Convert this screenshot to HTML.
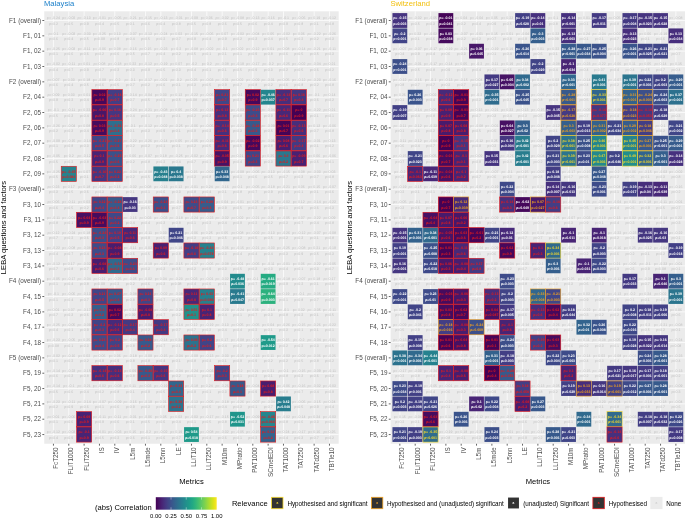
<!DOCTYPE html>
<html><head><meta charset="utf-8"><title>LEBA correlations</title><style>html,body{margin:0;padding:0;background:#fff}svg{display:block}</style></head><body>
<svg width="685" height="518" viewBox="0 0 685 518" font-family="'Liberation Sans', Arial, sans-serif">
<rect width="685" height="518" fill="#fff"/>
<g>
<text x="44.0" y="6.1" font-size="7.65" fill="#1a7fc9">Malaysia</text>
<rect x="44.25" y="11.30" width="294.43" height="432.45" fill="#ebebeb"/>
<path d="M44.25 20.50H338.68M44.25 35.84H338.68M44.25 51.17H338.68M44.25 66.50H338.68M44.25 81.84H338.68M44.25 97.18H338.68M44.25 112.51H338.68M44.25 127.84H338.68M44.25 143.18H338.68M44.25 158.52H338.68M44.25 173.85H338.68M44.25 189.19H338.68M44.25 204.52H338.68M44.25 219.86H338.68M44.25 235.19H338.68M44.25 250.53H338.68M44.25 265.86H338.68M44.25 281.19H338.68M44.25 296.53H338.68M44.25 311.87H338.68M44.25 327.20H338.68M44.25 342.54H338.68M44.25 357.87H338.68M44.25 373.21H338.68M44.25 388.54H338.68M44.25 403.88H338.68M44.25 419.21H338.68M44.25 434.55H338.68M53.45 11.30V443.75M68.78 11.30V443.75M84.12 11.30V443.75M99.46 11.30V443.75M114.79 11.30V443.75M130.12 11.30V443.75M145.46 11.30V443.75M160.80 11.30V443.75M176.13 11.30V443.75M191.47 11.30V443.75M206.80 11.30V443.75M222.13 11.30V443.75M237.47 11.30V443.75M252.81 11.30V443.75M268.14 11.30V443.75M283.48 11.30V443.75M298.81 11.30V443.75M314.14 11.30V443.75M329.48 11.30V443.75" stroke="#fcfcfc" stroke-width="0.85" fill="none"/>
<path d="M44.25 20.50h-1.9M44.25 35.84h-1.9M44.25 51.17h-1.9M44.25 66.50h-1.9M44.25 81.84h-1.9M44.25 97.18h-1.9M44.25 112.51h-1.9M44.25 127.84h-1.9M44.25 143.18h-1.9M44.25 158.52h-1.9M44.25 173.85h-1.9M44.25 189.19h-1.9M44.25 204.52h-1.9M44.25 219.86h-1.9M44.25 235.19h-1.9M44.25 250.53h-1.9M44.25 265.86h-1.9M44.25 281.19h-1.9M44.25 296.53h-1.9M44.25 311.87h-1.9M44.25 327.20h-1.9M44.25 342.54h-1.9M44.25 357.87h-1.9M44.25 373.21h-1.9M44.25 388.54h-1.9M44.25 403.88h-1.9M44.25 419.21h-1.9M44.25 434.55h-1.9M53.45 443.75v1.9M68.78 443.75v1.9M84.12 443.75v1.9M99.46 443.75v1.9M114.79 443.75v1.9M130.12 443.75v1.9M145.46 443.75v1.9M160.80 443.75v1.9M176.13 443.75v1.9M191.47 443.75v1.9M206.80 443.75v1.9M222.13 443.75v1.9M237.47 443.75v1.9M252.81 443.75v1.9M268.14 443.75v1.9M283.48 443.75v1.9M298.81 443.75v1.9M314.14 443.75v1.9M329.48 443.75v1.9" stroke="#333" stroke-width="0.75" fill="none"/>
<g font-size="6.35" fill="#4d4d4d" text-anchor="end">
<text x="41.05" y="22.75">F1 (overall)</text>
<text x="41.05" y="38.09">F1, 01</text>
<text x="41.05" y="53.42">F1, 02</text>
<text x="41.05" y="68.75">F1, 03</text>
<text x="41.05" y="84.09">F2 (overall)</text>
<text x="41.05" y="99.43">F2, 04</text>
<text x="41.05" y="114.76">F2, 05</text>
<text x="41.05" y="130.09">F2, 06</text>
<text x="41.05" y="145.43">F2, 07</text>
<text x="41.05" y="160.77">F2, 08</text>
<text x="41.05" y="176.10">F2, 09</text>
<text x="41.05" y="191.44">F3 (overall)</text>
<text x="41.05" y="206.77">F3, 10</text>
<text x="41.05" y="222.11">F3, 11</text>
<text x="41.05" y="237.44">F3, 12</text>
<text x="41.05" y="252.78">F3, 13</text>
<text x="41.05" y="268.11">F3, 14</text>
<text x="41.05" y="283.44">F4 (overall)</text>
<text x="41.05" y="298.78">F4, 15</text>
<text x="41.05" y="314.12">F4, 16</text>
<text x="41.05" y="329.45">F4, 17</text>
<text x="41.05" y="344.79">F4, 18</text>
<text x="41.05" y="360.12">F5 (overall)</text>
<text x="41.05" y="375.46">F5, 19</text>
<text x="41.05" y="390.79">F5, 20</text>
<text x="41.05" y="406.12">F5, 21</text>
<text x="41.05" y="421.46">F5, 22</text>
<text x="41.05" y="436.80">F5, 23</text>
</g>
<g font-size="6.35" fill="#4d4d4d" text-anchor="end">
<text transform="translate(58.05 447.35) rotate(-90)">FcT250</text>
<text transform="translate(73.38 447.35) rotate(-90)">FLiT1000</text>
<text transform="translate(88.72 447.35) rotate(-90)">FLiT250</text>
<text transform="translate(104.06 447.35) rotate(-90)">IS</text>
<text transform="translate(119.39 447.35) rotate(-90)">IV</text>
<text transform="translate(134.72 447.35) rotate(-90)">L5m</text>
<text transform="translate(150.06 447.35) rotate(-90)">L5mde</text>
<text transform="translate(165.40 447.35) rotate(-90)">L5mn</text>
<text transform="translate(180.73 447.35) rotate(-90)">LE</text>
<text transform="translate(196.07 447.35) rotate(-90)">LLiT10</text>
<text transform="translate(211.40 447.35) rotate(-90)">LLiT250</text>
<text transform="translate(226.73 447.35) rotate(-90)">M10m</text>
<text transform="translate(242.07 447.35) rotate(-90)">MPratio</text>
<text transform="translate(257.41 447.35) rotate(-90)">PAT1000</text>
<text transform="translate(272.74 447.35) rotate(-90)">SCmelEDI</text>
<text transform="translate(288.08 447.35) rotate(-90)">TAT1000</text>
<text transform="translate(303.41 447.35) rotate(-90)">TAT250</text>
<text transform="translate(318.75 447.35) rotate(-90)">TATd250</text>
<text transform="translate(334.08 447.35) rotate(-90)">TBTle10</text>
</g>
<text x="191.47" y="483.8" font-size="7.6" text-anchor="middle" fill="#000">Metrics</text>
<text transform="translate(5.75 227.52) rotate(-90)" font-size="7.6" text-anchor="middle" fill="#000">LEBA questions and factors</text>
<g font-size="3.55" text-anchor="middle" fill="#bfbfbf" text-rendering="geometricPrecision">
<text x="53.45" y="19.40">ρ= -0.24</text><text x="53.45" y="24.75">p=0.2</text><text x="68.78" y="19.40">ρ= -0.02</text><text x="68.78" y="24.75">p=0.5</text><text x="84.12" y="19.40">ρ= -0.13</text><text x="84.12" y="24.75">p=0.9</text><text x="99.46" y="19.40">ρ= -0.01</text><text x="99.46" y="24.75">p=0.4</text><text x="114.79" y="19.40">ρ= -0.05</text><text x="114.79" y="24.75">p=0.5</text><text x="130.12" y="19.40">ρ= -0.21</text><text x="130.12" y="24.75">p=0.1</text><text x="145.46" y="19.40">ρ= -0.15</text><text x="145.46" y="24.75">p=0.6</text><text x="160.80" y="19.40">ρ= -0.13</text><text x="160.80" y="24.75">p=0.4</text><text x="176.13" y="19.40">ρ= -0.01</text><text x="176.13" y="24.75">p=0.8</text><text x="191.47" y="19.40">ρ= -0.09</text><text x="191.47" y="24.75">p=0.5</text><text x="206.80" y="19.40">ρ= 0.06</text><text x="206.80" y="24.75">p=0.8</text><text x="222.13" y="19.40">ρ= -0.02</text><text x="222.13" y="24.75">p=0.6</text><text x="237.47" y="19.40">ρ= -0.08</text><text x="237.47" y="24.75">p=0.5</text><text x="252.81" y="19.40">ρ= -0.13</text><text x="252.81" y="24.75">p=0.6</text><text x="268.14" y="19.40">ρ= -0.16</text><text x="268.14" y="24.75">p=0.4</text><text x="283.48" y="19.40">ρ= -0.1</text><text x="283.48" y="24.75">p=0.9</text><text x="298.81" y="19.40">ρ= -0.06</text><text x="298.81" y="24.75">p=0.8</text><text x="314.14" y="19.40">ρ= 0.19</text><text x="314.14" y="24.75">p=0.1</text><text x="329.48" y="19.40">ρ= -0.12</text><text x="329.48" y="24.75">p=0.8</text><text x="53.45" y="34.73">ρ= 0.1</text><text x="53.45" y="40.09">p=0.6</text><text x="68.78" y="34.73">ρ= -0.03</text><text x="68.78" y="40.09">p=0.4</text><text x="84.12" y="34.73">ρ= -0.03</text><text x="84.12" y="40.09">p=0.5</text><text x="99.46" y="34.73">ρ= -0.25</text><text x="99.46" y="40.09">p=0.09</text><text x="114.79" y="34.73">ρ= 0.13</text><text x="114.79" y="40.09">p=0.8</text><text x="130.12" y="34.73">ρ= -0.07</text><text x="130.12" y="40.09">p=0.4</text><text x="145.46" y="34.73">ρ= -0.13</text><text x="145.46" y="40.09">p=0.5</text><text x="160.80" y="34.73">ρ= -0.24</text><text x="160.80" y="40.09">p=0.2</text><text x="176.13" y="34.73">ρ= 0.02</text><text x="176.13" y="40.09">p=0.7</text><text x="191.47" y="34.73">ρ= -0.15</text><text x="191.47" y="40.09">p=0.9</text><text x="206.80" y="34.73">ρ= -0.06</text><text x="206.80" y="40.09">p=0.4</text><text x="222.13" y="34.73">ρ= 0.07</text><text x="222.13" y="40.09">p=0.9</text><text x="237.47" y="34.73">ρ= -0.03</text><text x="237.47" y="40.09">p=0.2</text><text x="252.81" y="34.73">ρ= -0.04</text><text x="252.81" y="40.09">p=0.3</text><text x="268.14" y="34.73">ρ= 0.05</text><text x="268.14" y="40.09">p=0.4</text><text x="283.48" y="34.73">ρ= -0.02</text><text x="283.48" y="40.09">p=0.5</text><text x="298.81" y="34.73">ρ= 0.06</text><text x="298.81" y="40.09">p=0.2</text><text x="314.14" y="34.73">ρ= -0.22</text><text x="314.14" y="40.09">p=0.2</text><text x="329.48" y="34.73">ρ= -0.26</text><text x="329.48" y="40.09">p=0.3</text><text x="53.45" y="50.07">ρ= -0.25</text><text x="53.45" y="55.42">p=0.1</text><text x="68.78" y="50.07">ρ= -0.03</text><text x="68.78" y="55.42">p=0.6</text><text x="84.12" y="50.07">ρ= -0.11</text><text x="84.12" y="55.42">p=0.6</text><text x="99.46" y="50.07">ρ= -0.06</text><text x="99.46" y="55.42">p=0.2</text><text x="114.79" y="50.07">ρ= 0.08</text><text x="114.79" y="55.42">p=0.6</text><text x="130.12" y="50.07">ρ= -0.16</text><text x="130.12" y="55.42">p=0.5</text><text x="145.46" y="50.07">ρ= 0.15</text><text x="145.46" y="55.42">p=0.7</text><text x="160.80" y="50.07">ρ= -0.23</text><text x="160.80" y="55.42">p=0.4</text><text x="176.13" y="50.07">ρ= 0.2</text><text x="176.13" y="55.42">p=0.2</text><text x="191.47" y="50.07">ρ= -0.08</text><text x="191.47" y="55.42">p=0.5</text><text x="206.80" y="50.07">ρ= -0.02</text><text x="206.80" y="55.42">p=0.1</text><text x="222.13" y="50.07">ρ= -0.1</text><text x="222.13" y="55.42">p=0.1</text><text x="237.47" y="50.07">ρ= 0.02</text><text x="237.47" y="55.42">p=0.1</text><text x="252.81" y="50.07">ρ= -0.12</text><text x="252.81" y="55.42">p=0.9</text><text x="268.14" y="50.07">ρ= 0.01</text><text x="268.14" y="55.42">p=0.8</text><text x="283.48" y="50.07">ρ= 0.08</text><text x="283.48" y="55.42">p=0.6</text><text x="298.81" y="50.07">ρ= -0.14</text><text x="298.81" y="55.42">p=0.5</text><text x="314.14" y="50.07">ρ= -0.21</text><text x="314.14" y="55.42">p=0.5</text><text x="329.48" y="50.07">ρ= -0.11</text><text x="329.48" y="55.42">p=0.3</text><text x="53.45" y="65.41">ρ= -0.02</text><text x="53.45" y="70.75">p=0.4</text><text x="68.78" y="65.41">ρ= -0.11</text><text x="68.78" y="70.75">p=0.7</text><text x="84.12" y="65.41">ρ= 0.01</text><text x="84.12" y="70.75">p=0.9</text><text x="99.46" y="65.41">ρ= 0.08</text><text x="99.46" y="70.75">p=0.7</text><text x="114.79" y="65.41">ρ= -0.18</text><text x="114.79" y="70.75">p=0.3</text><text x="130.12" y="65.41">ρ= 0.22</text><text x="130.12" y="70.75">p=0.3</text><text x="145.46" y="65.41">ρ= -0.12</text><text x="145.46" y="70.75">p=0.9</text><text x="160.80" y="65.41">ρ= -0.19</text><text x="160.80" y="70.75">p=0.5</text><text x="176.13" y="65.41">ρ= 0.07</text><text x="176.13" y="70.75">p=0.3</text><text x="191.47" y="65.41">ρ= -0.2</text><text x="191.47" y="70.75">p=0.4</text><text x="206.80" y="65.41">ρ= 0.2</text><text x="206.80" y="70.75">p=0.1</text><text x="222.13" y="65.41">ρ= -0.08</text><text x="222.13" y="70.75">p=0.1</text><text x="237.47" y="65.41">ρ= -0.19</text><text x="237.47" y="70.75">p=0.5</text><text x="252.81" y="65.41">ρ= -0.17</text><text x="252.81" y="70.75">p=0.9</text><text x="268.14" y="65.41">ρ= -0.2</text><text x="268.14" y="70.75">p=0.3</text><text x="283.48" y="65.41">ρ= -0.25</text><text x="283.48" y="70.75">p=0.2</text><text x="298.81" y="65.41">ρ= -0.02</text><text x="298.81" y="70.75">p=0.5</text><text x="314.14" y="65.41">ρ= -0.04</text><text x="314.14" y="70.75">p=0.6</text><text x="329.48" y="65.41">ρ= 0.21</text><text x="329.48" y="70.75">p=0.2</text><text x="53.45" y="80.74">ρ= 0.07</text><text x="53.45" y="86.09">p=0.6</text><text x="68.78" y="80.74">ρ= 0.03</text><text x="68.78" y="86.09">p=0.4</text><text x="84.12" y="80.74">ρ= 0.18</text><text x="84.12" y="86.09">p=0.5</text><text x="99.46" y="80.74">ρ= -0.09</text><text x="99.46" y="86.09">p=0.6</text><text x="114.79" y="80.74">ρ= -0.2</text><text x="114.79" y="86.09">p=0.5</text><text x="130.12" y="80.74">ρ= -0.1</text><text x="130.12" y="86.09">p=0.7</text><text x="145.46" y="80.74">ρ= -0.17</text><text x="145.46" y="86.09">p=0.2</text><text x="160.80" y="80.74">ρ= -0.01</text><text x="160.80" y="86.09">p=0.6</text><text x="176.13" y="80.74">ρ= -0.2</text><text x="176.13" y="86.09">p=0.1</text><text x="191.47" y="80.74">ρ= 0.25</text><text x="191.47" y="86.09">p=0.3</text><text x="206.80" y="80.74">ρ= -0.03</text><text x="206.80" y="86.09">p=0.5</text><text x="222.13" y="80.74">ρ= -0.01</text><text x="222.13" y="86.09">p=0.9</text><text x="237.47" y="80.74">ρ= 0.02</text><text x="237.47" y="86.09">p=0.7</text><text x="252.81" y="80.74">ρ= -0.09</text><text x="252.81" y="86.09">p=0.8</text><text x="268.14" y="80.74">ρ= -0.01</text><text x="268.14" y="86.09">p=0.2</text><text x="283.48" y="80.74">ρ= 0.05</text><text x="283.48" y="86.09">p=0.6</text><text x="298.81" y="80.74">ρ= -0.12</text><text x="298.81" y="86.09">p=0.8</text><text x="314.14" y="80.74">ρ= -0.23</text><text x="314.14" y="86.09">p=0.2</text><text x="329.48" y="80.74">ρ= -0.16</text><text x="329.48" y="86.09">p=0.8</text><text x="53.45" y="96.08">ρ= 0.09</text><text x="53.45" y="101.43">p=0.9</text><text x="68.78" y="96.08">ρ= 0.03</text><text x="68.78" y="101.43">p=0.2</text><text x="84.12" y="96.08">ρ= 0.01</text><text x="84.12" y="101.43">p=0.4</text><text x="130.12" y="96.08">ρ= -0.14</text><text x="130.12" y="101.43">p=0.7</text><text x="145.46" y="96.08">ρ= -0.04</text><text x="145.46" y="101.43">p=0.5</text><text x="160.80" y="96.08">ρ= 0.03</text><text x="160.80" y="101.43">p=0.1</text><text x="176.13" y="96.08">ρ= 0.12</text><text x="176.13" y="101.43">p=0.5</text><text x="191.47" y="96.08">ρ= -0.22</text><text x="191.47" y="101.43">p=0.08</text><text x="206.80" y="96.08">ρ= -0.06</text><text x="206.80" y="101.43">p=0.7</text><text x="237.47" y="96.08">ρ= 0.1</text><text x="237.47" y="101.43">p=0.1</text><text x="314.14" y="96.08">ρ= -0.1</text><text x="314.14" y="101.43">p=0.6</text><text x="329.48" y="96.08">ρ= 0.14</text><text x="329.48" y="101.43">p=0.2</text><text x="53.45" y="111.41">ρ= -0.1</text><text x="53.45" y="116.76">p=0.5</text><text x="68.78" y="111.41">ρ= -0.11</text><text x="68.78" y="116.76">p=0.3</text><text x="84.12" y="111.41">ρ= 0.22</text><text x="84.12" y="116.76">p=0.4</text><text x="130.12" y="111.41">ρ= -0.24</text><text x="130.12" y="116.76">p=0.4</text><text x="145.46" y="111.41">ρ= -0.21</text><text x="145.46" y="116.76">p=0.1</text><text x="160.80" y="111.41">ρ= -0.08</text><text x="160.80" y="116.76">p=0.3</text><text x="176.13" y="111.41">ρ= 0.05</text><text x="176.13" y="116.76">p=0.1</text><text x="191.47" y="111.41">ρ= 0.06</text><text x="191.47" y="116.76">p=0.2</text><text x="206.80" y="111.41">ρ= -0.24</text><text x="206.80" y="116.76">p=0.3</text><text x="237.47" y="111.41">ρ= -0.03</text><text x="237.47" y="116.76">p=0.8</text><text x="268.14" y="111.41">ρ= -0.04</text><text x="268.14" y="116.76">p=0.9</text><text x="314.14" y="111.41">ρ= -0.22</text><text x="314.14" y="116.76">p=0.1</text><text x="329.48" y="111.41">ρ= 0.21</text><text x="329.48" y="116.76">p=0.1</text><text x="53.45" y="126.75">ρ= -0.26</text><text x="53.45" y="132.09">p=0.2</text><text x="68.78" y="126.75">ρ= -0.04</text><text x="68.78" y="132.09">p=0.3</text><text x="84.12" y="126.75">ρ= 0.08</text><text x="84.12" y="132.09">p=0.4</text><text x="130.12" y="126.75">ρ= -0.1</text><text x="130.12" y="132.09">p=0.1</text><text x="145.46" y="126.75">ρ= -0.12</text><text x="145.46" y="132.09">p=0.3</text><text x="160.80" y="126.75">ρ= -0.02</text><text x="160.80" y="132.09">p=0.9</text><text x="176.13" y="126.75">ρ= -0.25</text><text x="176.13" y="132.09">p=0.1</text><text x="191.47" y="126.75">ρ= -0.06</text><text x="191.47" y="132.09">p=0.9</text><text x="206.80" y="126.75">ρ= -0.06</text><text x="206.80" y="132.09">p=0.2</text><text x="237.47" y="126.75">ρ= -0.21</text><text x="237.47" y="132.09">p=0.3</text><text x="268.14" y="126.75">ρ= -0.09</text><text x="268.14" y="132.09">p=0.5</text><text x="314.14" y="126.75">ρ= 0.13</text><text x="314.14" y="132.09">p=0.7</text><text x="329.48" y="126.75">ρ= -0.06</text><text x="329.48" y="132.09">p=0.8</text><text x="53.45" y="142.08">ρ= -0.09</text><text x="53.45" y="147.43">p=0.1</text><text x="68.78" y="142.08">ρ= -0.15</text><text x="68.78" y="147.43">p=0.8</text><text x="84.12" y="142.08">ρ= -0.14</text><text x="84.12" y="147.43">p=0.3</text><text x="130.12" y="142.08">ρ= -0.22</text><text x="130.12" y="147.43">p=0.2</text><text x="145.46" y="142.08">ρ= -0.26</text><text x="145.46" y="147.43">p=0.2</text><text x="160.80" y="142.08">ρ= -0.14</text><text x="160.80" y="147.43">p=0.1</text><text x="176.13" y="142.08">ρ= 0.05</text><text x="176.13" y="147.43">p=0.1</text><text x="191.47" y="142.08">ρ= -0.05</text><text x="191.47" y="147.43">p=0.2</text><text x="206.80" y="142.08">ρ= -0.15</text><text x="206.80" y="147.43">p=0.5</text><text x="237.47" y="142.08">ρ= -0.06</text><text x="237.47" y="147.43">p=0.5</text><text x="268.14" y="142.08">ρ= -0.06</text><text x="268.14" y="147.43">p=0.8</text><text x="314.14" y="142.08">ρ= -0.01</text><text x="314.14" y="147.43">p=0.1</text><text x="329.48" y="142.08">ρ= 0.13</text><text x="329.48" y="147.43">p=0.2</text><text x="53.45" y="157.42">ρ= -0.05</text><text x="53.45" y="162.77">p=0.5</text><text x="68.78" y="157.42">ρ= 0.2</text><text x="68.78" y="162.77">p=0.2</text><text x="84.12" y="157.42">ρ= -0.12</text><text x="84.12" y="162.77">p=0.8</text><text x="130.12" y="157.42">ρ= 0.06</text><text x="130.12" y="162.77">p=0.2</text><text x="145.46" y="157.42">ρ= -0.07</text><text x="145.46" y="162.77">p=0.8</text><text x="160.80" y="157.42">ρ= 0.18</text><text x="160.80" y="162.77">p=0.2</text><text x="176.13" y="157.42">ρ= -0.25</text><text x="176.13" y="162.77">p=0.4</text><text x="191.47" y="157.42">ρ= -0.02</text><text x="191.47" y="162.77">p=0.7</text><text x="206.80" y="157.42">ρ= -0.09</text><text x="206.80" y="162.77">p=0.1</text><text x="237.47" y="157.42">ρ= 0.21</text><text x="237.47" y="162.77">p=0.4</text><text x="268.14" y="157.42">ρ= 0.25</text><text x="268.14" y="162.77">p=0.3</text><text x="314.14" y="157.42">ρ= 0.06</text><text x="314.14" y="162.77">p=0.5</text><text x="329.48" y="157.42">ρ= -0.06</text><text x="329.48" y="162.77">p=0.1</text><text x="53.45" y="172.75">ρ= -0.25</text><text x="53.45" y="178.10">p=0.5</text><text x="84.12" y="172.75">ρ= 0.07</text><text x="84.12" y="178.10">p=0.1</text><text x="130.12" y="172.75">ρ= -0.04</text><text x="130.12" y="178.10">p=0.2</text><text x="145.46" y="172.75">ρ= -0.08</text><text x="145.46" y="178.10">p=0.5</text><text x="191.47" y="172.75">ρ= 0.15</text><text x="191.47" y="178.10">p=0.3</text><text x="206.80" y="172.75">ρ= -0.02</text><text x="206.80" y="178.10">p=0.8</text><text x="237.47" y="172.75">ρ= -0.09</text><text x="237.47" y="178.10">p=0.1</text><text x="252.81" y="172.75">ρ= -0.06</text><text x="252.81" y="178.10">p=0.6</text><text x="268.14" y="172.75">ρ= -0.13</text><text x="268.14" y="178.10">p=0.5</text><text x="283.48" y="172.75">ρ= -0.15</text><text x="283.48" y="178.10">p=0.7</text><text x="298.81" y="172.75">ρ= 0.08</text><text x="298.81" y="178.10">p=0.3</text><text x="314.14" y="172.75">ρ= -0.03</text><text x="314.14" y="178.10">p=0.7</text><text x="329.48" y="172.75">ρ= 0.03</text><text x="329.48" y="178.10">p=0.8</text><text x="53.45" y="188.09">ρ= 0.23</text><text x="53.45" y="193.44">p=0.3</text><text x="68.78" y="188.09">ρ= 0.17</text><text x="68.78" y="193.44">p=0.5</text><text x="84.12" y="188.09">ρ= 0.18</text><text x="84.12" y="193.44">p=0.6</text><text x="99.46" y="188.09">ρ= -0.21</text><text x="99.46" y="193.44">p=0.3</text><text x="114.79" y="188.09">ρ= 0.16</text><text x="114.79" y="193.44">p=0.7</text><text x="130.12" y="188.09">ρ= -0.02</text><text x="130.12" y="193.44">p=0.1</text><text x="145.46" y="188.09">ρ= 0.08</text><text x="145.46" y="193.44">p=0.1</text><text x="160.80" y="188.09">ρ= -0.13</text><text x="160.80" y="193.44">p=0.6</text><text x="176.13" y="188.09">ρ= 0.12</text><text x="176.13" y="193.44">p=0.3</text><text x="191.47" y="188.09">ρ= -0.01</text><text x="191.47" y="193.44">p=0.8</text><text x="206.80" y="188.09">ρ= 0.24</text><text x="206.80" y="193.44">p=0.4</text><text x="222.13" y="188.09">ρ= -0.16</text><text x="222.13" y="193.44">p=0.1</text><text x="237.47" y="188.09">ρ= 0.1</text><text x="237.47" y="193.44">p=0.8</text><text x="252.81" y="188.09">ρ= -0.05</text><text x="252.81" y="193.44">p=0.7</text><text x="268.14" y="188.09">ρ= -0.18</text><text x="268.14" y="193.44">p=0.9</text><text x="283.48" y="188.09">ρ= -0.21</text><text x="283.48" y="193.44">p=0.09</text><text x="298.81" y="188.09">ρ= 0.06</text><text x="298.81" y="193.44">p=0.1</text><text x="314.14" y="188.09">ρ= 0.15</text><text x="314.14" y="193.44">p=0.1</text><text x="329.48" y="188.09">ρ= -0.07</text><text x="329.48" y="193.44">p=0.6</text><text x="53.45" y="203.42">ρ= 0.06</text><text x="53.45" y="208.77">p=0.6</text><text x="68.78" y="203.42">ρ= -0.11</text><text x="68.78" y="208.77">p=0.5</text><text x="84.12" y="203.42">ρ= 0.02</text><text x="84.12" y="208.77">p=0.2</text><text x="145.46" y="203.42">ρ= -0.06</text><text x="145.46" y="208.77">p=0.5</text><text x="176.13" y="203.42">ρ= -0.1</text><text x="176.13" y="208.77">p=0.7</text><text x="222.13" y="203.42">ρ= 0.04</text><text x="222.13" y="208.77">p=0.9</text><text x="237.47" y="203.42">ρ= -0.01</text><text x="237.47" y="208.77">p=0.5</text><text x="252.81" y="203.42">ρ= 0.25</text><text x="252.81" y="208.77">p=0.2</text><text x="268.14" y="203.42">ρ= -0.08</text><text x="268.14" y="208.77">p=0.9</text><text x="283.48" y="203.42">ρ= -0.02</text><text x="283.48" y="208.77">p=0.1</text><text x="298.81" y="203.42">ρ= 0.12</text><text x="298.81" y="208.77">p=0.9</text><text x="314.14" y="203.42">ρ= -0.14</text><text x="314.14" y="208.77">p=0.6</text><text x="329.48" y="203.42">ρ= -0.22</text><text x="329.48" y="208.77">p=0.3</text><text x="53.45" y="218.76">ρ= -0.11</text><text x="53.45" y="224.11">p=0.8</text><text x="68.78" y="218.76">ρ= -0.01</text><text x="68.78" y="224.11">p=0.1</text><text x="130.12" y="218.76">ρ= -0.16</text><text x="130.12" y="224.11">p=0.4</text><text x="145.46" y="218.76">ρ= 0.03</text><text x="145.46" y="224.11">p=0.4</text><text x="160.80" y="218.76">ρ= -0.03</text><text x="160.80" y="224.11">p=0.3</text><text x="176.13" y="218.76">ρ= -0.18</text><text x="176.13" y="224.11">p=0.8</text><text x="191.47" y="218.76">ρ= -0.24</text><text x="191.47" y="224.11">p=0.1</text><text x="206.80" y="218.76">ρ= -0.23</text><text x="206.80" y="224.11">p=0.2</text><text x="222.13" y="218.76">ρ= -0.02</text><text x="222.13" y="224.11">p=0.4</text><text x="237.47" y="218.76">ρ= 0.02</text><text x="237.47" y="224.11">p=0.9</text><text x="252.81" y="218.76">ρ= -0.21</text><text x="252.81" y="224.11">p=0.2</text><text x="268.14" y="218.76">ρ= -0.21</text><text x="268.14" y="224.11">p=0.2</text><text x="283.48" y="218.76">ρ= -0.05</text><text x="283.48" y="224.11">p=0.3</text><text x="298.81" y="218.76">ρ= 0.07</text><text x="298.81" y="224.11">p=0.7</text><text x="314.14" y="218.76">ρ= -0.22</text><text x="314.14" y="224.11">p=0.4</text><text x="329.48" y="218.76">ρ= 0.09</text><text x="329.48" y="224.11">p=0.8</text><text x="53.45" y="234.09">ρ= 0.12</text><text x="53.45" y="239.44">p=0.7</text><text x="68.78" y="234.09">ρ= -0.24</text><text x="68.78" y="239.44">p=0.2</text><text x="84.12" y="234.09">ρ= 0.18</text><text x="84.12" y="239.44">p=0.6</text><text x="145.46" y="234.09">ρ= -0.11</text><text x="145.46" y="239.44">p=0.9</text><text x="160.80" y="234.09">ρ= 0.03</text><text x="160.80" y="239.44">p=0.5</text><text x="191.47" y="234.09">ρ= -0.06</text><text x="191.47" y="239.44">p=0.3</text><text x="206.80" y="234.09">ρ= 0.25</text><text x="206.80" y="239.44">p=0.2</text><text x="222.13" y="234.09">ρ= 0.05</text><text x="222.13" y="239.44">p=0.5</text><text x="237.47" y="234.09">ρ= 0.08</text><text x="237.47" y="239.44">p=0.2</text><text x="252.81" y="234.09">ρ= -0.02</text><text x="252.81" y="239.44">p=0.5</text><text x="268.14" y="234.09">ρ= -0.13</text><text x="268.14" y="239.44">p=0.5</text><text x="283.48" y="234.09">ρ= -0.26</text><text x="283.48" y="239.44">p=0.2</text><text x="298.81" y="234.09">ρ= -0.12</text><text x="298.81" y="239.44">p=0.3</text><text x="314.14" y="234.09">ρ= -0.07</text><text x="314.14" y="239.44">p=0.1</text><text x="329.48" y="234.09">ρ= -0.08</text><text x="329.48" y="239.44">p=0.8</text><text x="53.45" y="249.43">ρ= -0.22</text><text x="53.45" y="254.78">p=0.4</text><text x="68.78" y="249.43">ρ= -0.08</text><text x="68.78" y="254.78">p=0.7</text><text x="84.12" y="249.43">ρ= -0.08</text><text x="84.12" y="254.78">p=0.4</text><text x="130.12" y="249.43">ρ= -0.11</text><text x="130.12" y="254.78">p=0.6</text><text x="145.46" y="249.43">ρ= -0.03</text><text x="145.46" y="254.78">p=0.5</text><text x="176.13" y="249.43">ρ= 0.19</text><text x="176.13" y="254.78">p=0.8</text><text x="222.13" y="249.43">ρ= -0.06</text><text x="222.13" y="254.78">p=0.3</text><text x="237.47" y="249.43">ρ= -0.15</text><text x="237.47" y="254.78">p=0.4</text><text x="252.81" y="249.43">ρ= -0.21</text><text x="252.81" y="254.78">p=0.4</text><text x="268.14" y="249.43">ρ= -0.03</text><text x="268.14" y="254.78">p=0.4</text><text x="283.48" y="249.43">ρ= -0.25</text><text x="283.48" y="254.78">p=0.3</text><text x="298.81" y="249.43">ρ= -0.08</text><text x="298.81" y="254.78">p=0.9</text><text x="314.14" y="249.43">ρ= 0.21</text><text x="314.14" y="254.78">p=0.5</text><text x="329.48" y="249.43">ρ= -0.19</text><text x="329.48" y="254.78">p=0.3</text><text x="53.45" y="264.76">ρ= -0.12</text><text x="53.45" y="270.11">p=0.7</text><text x="68.78" y="264.76">ρ= 0.17</text><text x="68.78" y="270.11">p=0.8</text><text x="84.12" y="264.76">ρ= -0.02</text><text x="84.12" y="270.11">p=0.7</text><text x="145.46" y="264.76">ρ= -0.19</text><text x="145.46" y="270.11">p=0.3</text><text x="160.80" y="264.76">ρ= -0.15</text><text x="160.80" y="270.11">p=0.3</text><text x="176.13" y="264.76">ρ= -0.15</text><text x="176.13" y="270.11">p=0.5</text><text x="191.47" y="264.76">ρ= -0.17</text><text x="191.47" y="270.11">p=0.2</text><text x="206.80" y="264.76">ρ= -0.06</text><text x="206.80" y="270.11">p=0.9</text><text x="222.13" y="264.76">ρ= -0.08</text><text x="222.13" y="270.11">p=0.3</text><text x="237.47" y="264.76">ρ= 0.01</text><text x="237.47" y="270.11">p=0.5</text><text x="252.81" y="264.76">ρ= -0.06</text><text x="252.81" y="270.11">p=0.3</text><text x="268.14" y="264.76">ρ= -0.11</text><text x="268.14" y="270.11">p=0.3</text><text x="283.48" y="264.76">ρ= -0.01</text><text x="283.48" y="270.11">p=0.4</text><text x="298.81" y="264.76">ρ= 0.06</text><text x="298.81" y="270.11">p=0.1</text><text x="314.14" y="264.76">ρ= -0.22</text><text x="314.14" y="270.11">p=0.3</text><text x="329.48" y="264.76">ρ= -0.05</text><text x="329.48" y="270.11">p=0.7</text><text x="53.45" y="280.09">ρ= -0.05</text><text x="53.45" y="285.44">p=0.1</text><text x="68.78" y="280.09">ρ= -0.17</text><text x="68.78" y="285.44">p=0.4</text><text x="84.12" y="280.09">ρ= -0.04</text><text x="84.12" y="285.44">p=0.8</text><text x="99.46" y="280.09">ρ= 0.21</text><text x="99.46" y="285.44">p=0.09</text><text x="114.79" y="280.09">ρ= -0.25</text><text x="114.79" y="285.44">p=0.2</text><text x="130.12" y="280.09">ρ= -0.05</text><text x="130.12" y="285.44">p=0.2</text><text x="145.46" y="280.09">ρ= -0.02</text><text x="145.46" y="285.44">p=0.6</text><text x="160.80" y="280.09">ρ= 0.04</text><text x="160.80" y="285.44">p=0.3</text><text x="176.13" y="280.09">ρ= -0.23</text><text x="176.13" y="285.44">p=0.08</text><text x="191.47" y="280.09">ρ= 0.03</text><text x="191.47" y="285.44">p=0.4</text><text x="206.80" y="280.09">ρ= -0.01</text><text x="206.80" y="285.44">p=0.6</text><text x="222.13" y="280.09">ρ= -0.02</text><text x="222.13" y="285.44">p=0.1</text><text x="252.81" y="280.09">ρ= -0.1</text><text x="252.81" y="285.44">p=0.7</text><text x="283.48" y="280.09">ρ= -0.18</text><text x="283.48" y="285.44">p=0.9</text><text x="298.81" y="280.09">ρ= -0.07</text><text x="298.81" y="285.44">p=0.2</text><text x="314.14" y="280.09">ρ= 0.18</text><text x="314.14" y="285.44">p=0.1</text><text x="329.48" y="280.09">ρ= 0.17</text><text x="329.48" y="285.44">p=0.8</text><text x="53.45" y="295.43">ρ= -0.1</text><text x="53.45" y="300.78">p=0.1</text><text x="68.78" y="295.43">ρ= -0.06</text><text x="68.78" y="300.78">p=0.4</text><text x="84.12" y="295.43">ρ= -0.13</text><text x="84.12" y="300.78">p=0.7</text><text x="130.12" y="295.43">ρ= -0.08</text><text x="130.12" y="300.78">p=0.8</text><text x="160.80" y="295.43">ρ= -0.02</text><text x="160.80" y="300.78">p=0.7</text><text x="176.13" y="295.43">ρ= -0.08</text><text x="176.13" y="300.78">p=0.9</text><text x="222.13" y="295.43">ρ= -0.07</text><text x="222.13" y="300.78">p=0.7</text><text x="252.81" y="295.43">ρ= -0.01</text><text x="252.81" y="300.78">p=0.4</text><text x="283.48" y="295.43">ρ= 0.19</text><text x="283.48" y="300.78">p=0.1</text><text x="298.81" y="295.43">ρ= -0.1</text><text x="298.81" y="300.78">p=0.8</text><text x="314.14" y="295.43">ρ= -0.05</text><text x="314.14" y="300.78">p=0.7</text><text x="329.48" y="295.43">ρ= 0.07</text><text x="329.48" y="300.78">p=0.3</text><text x="53.45" y="310.76">ρ= 0.01</text><text x="53.45" y="316.12">p=0.7</text><text x="68.78" y="310.76">ρ= 0.07</text><text x="68.78" y="316.12">p=0.3</text><text x="84.12" y="310.76">ρ= -0.17</text><text x="84.12" y="316.12">p=0.6</text><text x="130.12" y="310.76">ρ= 0.24</text><text x="130.12" y="316.12">p=0.09</text><text x="160.80" y="310.76">ρ= -0.02</text><text x="160.80" y="316.12">p=0.7</text><text x="176.13" y="310.76">ρ= -0.25</text><text x="176.13" y="316.12">p=0.2</text><text x="222.13" y="310.76">ρ= -0.23</text><text x="222.13" y="316.12">p=0.4</text><text x="237.47" y="310.76">ρ= -0.24</text><text x="237.47" y="316.12">p=0.1</text><text x="252.81" y="310.76">ρ= 0.06</text><text x="252.81" y="316.12">p=0.7</text><text x="268.14" y="310.76">ρ= -0.14</text><text x="268.14" y="316.12">p=0.3</text><text x="283.48" y="310.76">ρ= -0.1</text><text x="283.48" y="316.12">p=0.8</text><text x="298.81" y="310.76">ρ= 0.02</text><text x="298.81" y="316.12">p=0.2</text><text x="314.14" y="310.76">ρ= -0.05</text><text x="314.14" y="316.12">p=0.1</text><text x="329.48" y="310.76">ρ= -0.11</text><text x="329.48" y="316.12">p=0.5</text><text x="53.45" y="326.10">ρ= -0.25</text><text x="53.45" y="331.45">p=0.4</text><text x="68.78" y="326.10">ρ= -0.05</text><text x="68.78" y="331.45">p=0.1</text><text x="84.12" y="326.10">ρ= -0.09</text><text x="84.12" y="331.45">p=0.9</text><text x="145.46" y="326.10">ρ= -0.04</text><text x="145.46" y="331.45">p=0.2</text><text x="176.13" y="326.10">ρ= -0.14</text><text x="176.13" y="331.45">p=0.7</text><text x="191.47" y="326.10">ρ= 0.12</text><text x="191.47" y="331.45">p=0.7</text><text x="206.80" y="326.10">ρ= -0.19</text><text x="206.80" y="331.45">p=0.3</text><text x="222.13" y="326.10">ρ= -0.13</text><text x="222.13" y="331.45">p=0.4</text><text x="237.47" y="326.10">ρ= 0.05</text><text x="237.47" y="331.45">p=0.4</text><text x="252.81" y="326.10">ρ= -0.05</text><text x="252.81" y="331.45">p=0.2</text><text x="268.14" y="326.10">ρ= 0.04</text><text x="268.14" y="331.45">p=0.1</text><text x="283.48" y="326.10">ρ= -0.26</text><text x="283.48" y="331.45">p=0.3</text><text x="298.81" y="326.10">ρ= -0.15</text><text x="298.81" y="331.45">p=0.1</text><text x="314.14" y="326.10">ρ= -0.26</text><text x="314.14" y="331.45">p=0.1</text><text x="329.48" y="326.10">ρ= -0.22</text><text x="329.48" y="331.45">p=0.1</text><text x="53.45" y="341.44">ρ= -0.23</text><text x="53.45" y="346.79">p=0.08</text><text x="68.78" y="341.44">ρ= -0.05</text><text x="68.78" y="346.79">p=0.1</text><text x="84.12" y="341.44">ρ= 0.25</text><text x="84.12" y="346.79">p=0.3</text><text x="130.12" y="341.44">ρ= -0.08</text><text x="130.12" y="346.79">p=0.8</text><text x="160.80" y="341.44">ρ= -0.14</text><text x="160.80" y="346.79">p=0.7</text><text x="176.13" y="341.44">ρ= 0.24</text><text x="176.13" y="346.79">p=0.1</text><text x="222.13" y="341.44">ρ= 0.17</text><text x="222.13" y="346.79">p=0.4</text><text x="237.47" y="341.44">ρ= -0.08</text><text x="237.47" y="346.79">p=0.2</text><text x="252.81" y="341.44">ρ= -0.26</text><text x="252.81" y="346.79">p=0.08</text><text x="283.48" y="341.44">ρ= 0.15</text><text x="283.48" y="346.79">p=0.2</text><text x="298.81" y="341.44">ρ= -0.2</text><text x="298.81" y="346.79">p=0.2</text><text x="314.14" y="341.44">ρ= -0.04</text><text x="314.14" y="346.79">p=0.3</text><text x="329.48" y="341.44">ρ= -0.01</text><text x="329.48" y="346.79">p=0.5</text><text x="53.45" y="356.77">ρ= -0.02</text><text x="53.45" y="362.12">p=0.1</text><text x="68.78" y="356.77">ρ= -0.16</text><text x="68.78" y="362.12">p=0.2</text><text x="84.12" y="356.77">ρ= 0.02</text><text x="84.12" y="362.12">p=0.2</text><text x="99.46" y="356.77">ρ= 0.06</text><text x="99.46" y="362.12">p=0.9</text><text x="114.79" y="356.77">ρ= 0.06</text><text x="114.79" y="362.12">p=0.9</text><text x="130.12" y="356.77">ρ= -0.18</text><text x="130.12" y="362.12">p=0.8</text><text x="145.46" y="356.77">ρ= -0.09</text><text x="145.46" y="362.12">p=0.8</text><text x="160.80" y="356.77">ρ= -0.15</text><text x="160.80" y="362.12">p=0.4</text><text x="176.13" y="356.77">ρ= -0.04</text><text x="176.13" y="362.12">p=0.1</text><text x="191.47" y="356.77">ρ= -0.09</text><text x="191.47" y="362.12">p=0.8</text><text x="206.80" y="356.77">ρ= -0.13</text><text x="206.80" y="362.12">p=0.4</text><text x="222.13" y="356.77">ρ= -0.03</text><text x="222.13" y="362.12">p=0.1</text><text x="237.47" y="356.77">ρ= -0.15</text><text x="237.47" y="362.12">p=0.9</text><text x="252.81" y="356.77">ρ= -0.13</text><text x="252.81" y="362.12">p=0.9</text><text x="268.14" y="356.77">ρ= 0.11</text><text x="268.14" y="362.12">p=0.2</text><text x="283.48" y="356.77">ρ= -0.03</text><text x="283.48" y="362.12">p=0.2</text><text x="298.81" y="356.77">ρ= -0.02</text><text x="298.81" y="362.12">p=0.5</text><text x="314.14" y="356.77">ρ= -0.06</text><text x="314.14" y="362.12">p=0.8</text><text x="329.48" y="356.77">ρ= -0.25</text><text x="329.48" y="362.12">p=0.2</text><text x="53.45" y="372.11">ρ= -0.14</text><text x="53.45" y="377.46">p=0.6</text><text x="68.78" y="372.11">ρ= -0.23</text><text x="68.78" y="377.46">p=0.3</text><text x="84.12" y="372.11">ρ= -0.15</text><text x="84.12" y="377.46">p=0.8</text><text x="130.12" y="372.11">ρ= 0.09</text><text x="130.12" y="377.46">p=0.8</text><text x="176.13" y="372.11">ρ= -0.04</text><text x="176.13" y="377.46">p=0.2</text><text x="191.47" y="372.11">ρ= -0.24</text><text x="191.47" y="377.46">p=0.1</text><text x="206.80" y="372.11">ρ= -0.03</text><text x="206.80" y="377.46">p=0.3</text><text x="237.47" y="372.11">ρ= 0.2</text><text x="237.47" y="377.46">p=0.1</text><text x="252.81" y="372.11">ρ= 0.21</text><text x="252.81" y="377.46">p=0.3</text><text x="268.14" y="372.11">ρ= 0.21</text><text x="268.14" y="377.46">p=0.1</text><text x="283.48" y="372.11">ρ= 0.1</text><text x="283.48" y="377.46">p=0.8</text><text x="298.81" y="372.11">ρ= -0.15</text><text x="298.81" y="377.46">p=0.3</text><text x="314.14" y="372.11">ρ= -0.09</text><text x="314.14" y="377.46">p=0.6</text><text x="329.48" y="372.11">ρ= -0.11</text><text x="329.48" y="377.46">p=0.2</text><text x="53.45" y="387.44">ρ= -0.14</text><text x="53.45" y="392.79">p=0.5</text><text x="68.78" y="387.44">ρ= -0.1</text><text x="68.78" y="392.79">p=0.6</text><text x="84.12" y="387.44">ρ= -0.21</text><text x="84.12" y="392.79">p=0.4</text><text x="99.46" y="387.44">ρ= -0.02</text><text x="99.46" y="392.79">p=0.2</text><text x="114.79" y="387.44">ρ= -0.08</text><text x="114.79" y="392.79">p=0.8</text><text x="130.12" y="387.44">ρ= 0.11</text><text x="130.12" y="392.79">p=0.1</text><text x="145.46" y="387.44">ρ= 0.03</text><text x="145.46" y="392.79">p=0.9</text><text x="160.80" y="387.44">ρ= -0.19</text><text x="160.80" y="392.79">p=0.5</text><text x="191.47" y="387.44">ρ= -0.18</text><text x="191.47" y="392.79">p=0.9</text><text x="206.80" y="387.44">ρ= 0.24</text><text x="206.80" y="392.79">p=0.1</text><text x="222.13" y="387.44">ρ= -0.26</text><text x="222.13" y="392.79">p=0.3</text><text x="252.81" y="387.44">ρ= -0.04</text><text x="252.81" y="392.79">p=0.9</text><text x="283.48" y="387.44">ρ= -0.06</text><text x="283.48" y="392.79">p=0.8</text><text x="298.81" y="387.44">ρ= -0.16</text><text x="298.81" y="392.79">p=0.7</text><text x="314.14" y="387.44">ρ= -0.02</text><text x="314.14" y="392.79">p=0.4</text><text x="329.48" y="387.44">ρ= -0.03</text><text x="329.48" y="392.79">p=0.9</text><text x="53.45" y="402.77">ρ= -0.23</text><text x="53.45" y="408.12">p=0.2</text><text x="68.78" y="402.77">ρ= -0.11</text><text x="68.78" y="408.12">p=0.9</text><text x="84.12" y="402.77">ρ= -0.14</text><text x="84.12" y="408.12">p=0.6</text><text x="99.46" y="402.77">ρ= -0.07</text><text x="99.46" y="408.12">p=0.1</text><text x="114.79" y="402.77">ρ= -0.09</text><text x="114.79" y="408.12">p=0.6</text><text x="130.12" y="402.77">ρ= -0.16</text><text x="130.12" y="408.12">p=0.9</text><text x="145.46" y="402.77">ρ= -0.19</text><text x="145.46" y="408.12">p=0.3</text><text x="160.80" y="402.77">ρ= 0.01</text><text x="160.80" y="408.12">p=0.8</text><text x="191.47" y="402.77">ρ= -0.13</text><text x="191.47" y="408.12">p=0.6</text><text x="206.80" y="402.77">ρ= -0.05</text><text x="206.80" y="408.12">p=0.5</text><text x="222.13" y="402.77">ρ= -0.18</text><text x="222.13" y="408.12">p=0.4</text><text x="237.47" y="402.77">ρ= -0.26</text><text x="237.47" y="408.12">p=0.3</text><text x="252.81" y="402.77">ρ= -0.07</text><text x="252.81" y="408.12">p=0.1</text><text x="268.14" y="402.77">ρ= -0.04</text><text x="268.14" y="408.12">p=0.7</text><text x="298.81" y="402.77">ρ= -0.06</text><text x="298.81" y="408.12">p=0.5</text><text x="314.14" y="402.77">ρ= -0.15</text><text x="314.14" y="408.12">p=0.9</text><text x="329.48" y="402.77">ρ= 0.24</text><text x="329.48" y="408.12">p=0.4</text><text x="53.45" y="418.11">ρ= 0.01</text><text x="53.45" y="423.46">p=0.1</text><text x="68.78" y="418.11">ρ= -0.06</text><text x="68.78" y="423.46">p=0.6</text><text x="99.46" y="418.11">ρ= -0.11</text><text x="99.46" y="423.46">p=0.9</text><text x="114.79" y="418.11">ρ= -0.11</text><text x="114.79" y="423.46">p=0.6</text><text x="130.12" y="418.11">ρ= -0.01</text><text x="130.12" y="423.46">p=0.1</text><text x="145.46" y="418.11">ρ= -0.06</text><text x="145.46" y="423.46">p=0.5</text><text x="160.80" y="418.11">ρ= 0.05</text><text x="160.80" y="423.46">p=0.6</text><text x="176.13" y="418.11">ρ= 0.03</text><text x="176.13" y="423.46">p=0.4</text><text x="191.47" y="418.11">ρ= -0.03</text><text x="191.47" y="423.46">p=0.1</text><text x="206.80" y="418.11">ρ= -0.17</text><text x="206.80" y="423.46">p=0.5</text><text x="222.13" y="418.11">ρ= -0.15</text><text x="222.13" y="423.46">p=0.8</text><text x="252.81" y="418.11">ρ= -0.09</text><text x="252.81" y="423.46">p=0.3</text><text x="283.48" y="418.11">ρ= -0.02</text><text x="283.48" y="423.46">p=0.8</text><text x="298.81" y="418.11">ρ= -0.14</text><text x="298.81" y="423.46">p=0.6</text><text x="314.14" y="418.11">ρ= 0.24</text><text x="314.14" y="423.46">p=0.3</text><text x="329.48" y="418.11">ρ= -0.03</text><text x="329.48" y="423.46">p=0.1</text><text x="53.45" y="433.44">ρ= -0.12</text><text x="53.45" y="438.80">p=0.4</text><text x="68.78" y="433.44">ρ= -0.03</text><text x="68.78" y="438.80">p=0.9</text><text x="99.46" y="433.44">ρ= -0.01</text><text x="99.46" y="438.80">p=0.5</text><text x="114.79" y="433.44">ρ= -0.03</text><text x="114.79" y="438.80">p=0.2</text><text x="130.12" y="433.44">ρ= 0.15</text><text x="130.12" y="438.80">p=0.6</text><text x="145.46" y="433.44">ρ= -0.2</text><text x="145.46" y="438.80">p=0.1</text><text x="160.80" y="433.44">ρ= -0.02</text><text x="160.80" y="438.80">p=0.6</text><text x="176.13" y="433.44">ρ= 0.19</text><text x="176.13" y="438.80">p=0.7</text><text x="206.80" y="433.44">ρ= -0.08</text><text x="206.80" y="438.80">p=0.4</text><text x="222.13" y="433.44">ρ= -0.02</text><text x="222.13" y="438.80">p=0.6</text><text x="237.47" y="433.44">ρ= -0.05</text><text x="237.47" y="438.80">p=0.1</text><text x="252.81" y="433.44">ρ= -0.15</text><text x="252.81" y="438.80">p=0.2</text><text x="283.48" y="433.44">ρ= 0.24</text><text x="283.48" y="438.80">p=0.4</text><text x="298.81" y="433.44">ρ= -0.17</text><text x="298.81" y="438.80">p=0.3</text><text x="314.14" y="433.44">ρ= 0.16</text><text x="314.14" y="438.80">p=0.7</text><text x="329.48" y="433.44">ρ= 0.25</text><text x="329.48" y="438.80">p=0.2</text>
</g>
<rect x="91.89" y="89.61" width="15.14" height="15.14" fill="#46085c" stroke="#e41a1c" stroke-width="0.6"/><rect x="107.22" y="89.61" width="15.14" height="15.14" fill="#433e85" stroke="#e41a1c" stroke-width="0.6"/><rect x="214.57" y="89.61" width="15.14" height="15.14" fill="#404688" stroke="#e41a1c" stroke-width="0.6"/><rect x="245.24" y="89.61" width="15.14" height="15.14" fill="#46085c" stroke="#e41a1c" stroke-width="0.6"/><rect x="260.74" y="89.78" width="14.80" height="14.80" fill="#24868e"/><rect x="275.91" y="89.61" width="15.14" height="15.14" fill="#472e7c" stroke="#e41a1c" stroke-width="0.6"/><rect x="291.24" y="89.61" width="15.14" height="15.14" fill="#453781" stroke="#e41a1c" stroke-width="0.6"/><rect x="91.89" y="104.94" width="15.14" height="15.14" fill="#481769" stroke="#e41a1c" stroke-width="0.6"/><rect x="107.22" y="104.94" width="15.14" height="15.14" fill="#453781" stroke="#e41a1c" stroke-width="0.6"/><rect x="214.57" y="104.94" width="15.14" height="15.14" fill="#472e7c" stroke="#e41a1c" stroke-width="0.6"/><rect x="245.24" y="104.94" width="15.14" height="15.14" fill="#3e4c8a" stroke="#e41a1c" stroke-width="0.6"/><rect x="275.91" y="104.94" width="15.14" height="15.14" fill="#482878" stroke="#e41a1c" stroke-width="0.6"/><rect x="291.24" y="104.94" width="15.14" height="15.14" fill="#440154" stroke="#e41a1c" stroke-width="0.6"/><rect x="91.89" y="120.28" width="15.14" height="15.14" fill="#460b5e" stroke="#e41a1c" stroke-width="0.6"/><rect x="107.22" y="120.28" width="15.14" height="15.14" fill="#2e6f8e" stroke="#e41a1c" stroke-width="0.6"/><rect x="214.57" y="120.28" width="15.14" height="15.14" fill="#46307e" stroke="#e41a1c" stroke-width="0.6"/><rect x="245.24" y="120.28" width="15.14" height="15.14" fill="#375a8c" stroke="#e41a1c" stroke-width="0.6"/><rect x="275.91" y="120.28" width="15.14" height="15.14" fill="#450457" stroke="#e41a1c" stroke-width="0.6"/><rect x="291.24" y="120.28" width="15.14" height="15.14" fill="#472e7c" stroke="#e41a1c" stroke-width="0.6"/><rect x="91.89" y="135.61" width="15.14" height="15.14" fill="#404688" stroke="#e41a1c" stroke-width="0.6"/><rect x="107.22" y="135.61" width="15.14" height="15.14" fill="#38588c" stroke="#e41a1c" stroke-width="0.6"/><rect x="214.57" y="135.61" width="15.14" height="15.14" fill="#482878" stroke="#e41a1c" stroke-width="0.6"/><rect x="245.24" y="135.61" width="15.14" height="15.14" fill="#46085c" stroke="#e41a1c" stroke-width="0.6"/><rect x="275.91" y="135.61" width="15.14" height="15.14" fill="#481d6f" stroke="#e41a1c" stroke-width="0.6"/><rect x="291.24" y="135.61" width="15.14" height="15.14" fill="#443a83" stroke="#e41a1c" stroke-width="0.6"/><rect x="91.89" y="150.95" width="15.14" height="15.14" fill="#482475" stroke="#e41a1c" stroke-width="0.6"/><rect x="107.22" y="150.95" width="15.14" height="15.14" fill="#3b528b" stroke="#e41a1c" stroke-width="0.6"/><rect x="214.57" y="150.95" width="15.14" height="15.14" fill="#471365" stroke="#e41a1c" stroke-width="0.6"/><rect x="245.24" y="150.95" width="15.14" height="15.14" fill="#404688" stroke="#e41a1c" stroke-width="0.6"/><rect x="275.91" y="150.95" width="15.14" height="15.14" fill="#2a788e" stroke="#e41a1c" stroke-width="0.6"/><rect x="291.24" y="150.95" width="15.14" height="15.14" fill="#482173" stroke="#e41a1c" stroke-width="0.6"/><rect x="61.22" y="166.28" width="15.14" height="15.14" fill="#25848e" stroke="#e41a1c" stroke-width="0.6"/><rect x="91.89" y="166.28" width="15.14" height="15.14" fill="#453781" stroke="#e41a1c" stroke-width="0.6"/><rect x="107.22" y="166.28" width="15.14" height="15.14" fill="#3e4989" stroke="#e41a1c" stroke-width="0.6"/><rect x="153.40" y="166.45" width="14.80" height="14.80" fill="#27808e"/><rect x="168.73" y="166.45" width="14.80" height="14.80" fill="#2a788e"/><rect x="214.73" y="166.45" width="14.80" height="14.80" fill="#31678e"/><rect x="91.89" y="196.95" width="15.14" height="15.14" fill="#3e4989" stroke="#e41a1c" stroke-width="0.6"/><rect x="107.22" y="196.95" width="15.14" height="15.14" fill="#375a8c" stroke="#e41a1c" stroke-width="0.6"/><rect x="122.72" y="197.12" width="14.80" height="14.80" fill="#453781"/><rect x="153.23" y="196.95" width="15.14" height="15.14" fill="#3c4f8a" stroke="#e41a1c" stroke-width="0.6"/><rect x="183.90" y="196.95" width="15.14" height="15.14" fill="#3e4c8a" stroke="#e41a1c" stroke-width="0.6"/><rect x="199.23" y="196.95" width="15.14" height="15.14" fill="#365d8d" stroke="#e41a1c" stroke-width="0.6"/><rect x="76.55" y="212.29" width="15.14" height="15.14" fill="#471063" stroke="#e41a1c" stroke-width="0.6"/><rect x="91.89" y="212.29" width="15.14" height="15.14" fill="#460b5e" stroke="#e41a1c" stroke-width="0.6"/><rect x="107.22" y="212.29" width="15.14" height="15.14" fill="#3e4989" stroke="#e41a1c" stroke-width="0.6"/><rect x="91.89" y="227.62" width="15.14" height="15.14" fill="#3c4f8a" stroke="#e41a1c" stroke-width="0.6"/><rect x="107.22" y="227.62" width="15.14" height="15.14" fill="#424086" stroke="#e41a1c" stroke-width="0.6"/><rect x="122.56" y="227.62" width="15.14" height="15.14" fill="#482878" stroke="#e41a1c" stroke-width="0.6"/><rect x="168.73" y="227.79" width="14.80" height="14.80" fill="#404688"/><rect x="91.89" y="242.96" width="15.14" height="15.14" fill="#3e4c8a" stroke="#e41a1c" stroke-width="0.6"/><rect x="107.22" y="242.96" width="15.14" height="15.14" fill="#481d6f" stroke="#e41a1c" stroke-width="0.6"/><rect x="153.23" y="242.96" width="15.14" height="15.14" fill="#482173" stroke="#e41a1c" stroke-width="0.6"/><rect x="183.90" y="242.96" width="15.14" height="15.14" fill="#433e85" stroke="#e41a1c" stroke-width="0.6"/><rect x="199.23" y="242.96" width="15.14" height="15.14" fill="#26828e" stroke="#e41a1c" stroke-width="0.6"/><rect x="91.89" y="258.29" width="15.14" height="15.14" fill="#481d6f" stroke="#e41a1c" stroke-width="0.6"/><rect x="107.22" y="258.29" width="15.14" height="15.14" fill="#306a8e" stroke="#e41a1c" stroke-width="0.6"/><rect x="122.56" y="258.29" width="15.14" height="15.14" fill="#3e4c8a" stroke="#e41a1c" stroke-width="0.6"/><rect x="230.07" y="273.80" width="14.80" height="14.80" fill="#228b8d"/><rect x="260.74" y="273.80" width="14.80" height="14.80" fill="#25ab82"/><rect x="91.89" y="288.96" width="15.14" height="15.14" fill="#404688" stroke="#e41a1c" stroke-width="0.6"/><rect x="107.22" y="288.96" width="15.14" height="15.14" fill="#38588c" stroke="#e41a1c" stroke-width="0.6"/><rect x="137.89" y="288.96" width="15.14" height="15.14" fill="#404688" stroke="#e41a1c" stroke-width="0.6"/><rect x="183.90" y="288.96" width="15.14" height="15.14" fill="#482878" stroke="#e41a1c" stroke-width="0.6"/><rect x="199.23" y="288.96" width="15.14" height="15.14" fill="#27808e" stroke="#e41a1c" stroke-width="0.6"/><rect x="230.07" y="289.13" width="14.80" height="14.80" fill="#297a8e"/><rect x="260.74" y="289.13" width="14.80" height="14.80" fill="#2cb17e"/><rect x="91.89" y="304.30" width="15.14" height="15.14" fill="#355f8d" stroke="#e41a1c" stroke-width="0.6"/><rect x="107.22" y="304.30" width="15.14" height="15.14" fill="#46085c" stroke="#e41a1c" stroke-width="0.6"/><rect x="137.89" y="304.30" width="15.14" height="15.14" fill="#481d6f" stroke="#e41a1c" stroke-width="0.6"/><rect x="183.90" y="304.30" width="15.14" height="15.14" fill="#20928c" stroke="#e41a1c" stroke-width="0.6"/><rect x="199.23" y="304.30" width="15.14" height="15.14" fill="#482475" stroke="#e41a1c" stroke-width="0.6"/><rect x="91.89" y="319.63" width="15.14" height="15.14" fill="#414487" stroke="#e41a1c" stroke-width="0.6"/><rect x="107.22" y="319.63" width="15.14" height="15.14" fill="#472a7a" stroke="#e41a1c" stroke-width="0.6"/><rect x="122.56" y="319.63" width="15.14" height="15.14" fill="#443a83" stroke="#e41a1c" stroke-width="0.6"/><rect x="153.23" y="319.63" width="15.14" height="15.14" fill="#443a83" stroke="#e41a1c" stroke-width="0.6"/><rect x="91.89" y="334.97" width="15.14" height="15.14" fill="#3e4c8a" stroke="#e41a1c" stroke-width="0.6"/><rect x="107.22" y="334.97" width="15.14" height="15.14" fill="#414487" stroke="#e41a1c" stroke-width="0.6"/><rect x="137.89" y="334.97" width="15.14" height="15.14" fill="#375a8c" stroke="#e41a1c" stroke-width="0.6"/><rect x="183.90" y="334.97" width="15.14" height="15.14" fill="#2c738e" stroke="#e41a1c" stroke-width="0.6"/><rect x="199.23" y="334.97" width="15.14" height="15.14" fill="#414487" stroke="#e41a1c" stroke-width="0.6"/><rect x="260.74" y="335.14" width="14.80" height="14.80" fill="#1f9a8a"/><rect x="91.89" y="365.64" width="15.14" height="15.14" fill="#46307e" stroke="#e41a1c" stroke-width="0.6"/><rect x="107.22" y="365.64" width="15.14" height="15.14" fill="#472e7c" stroke="#e41a1c" stroke-width="0.6"/><rect x="137.89" y="365.64" width="15.14" height="15.14" fill="#375a8c" stroke="#e41a1c" stroke-width="0.6"/><rect x="153.23" y="365.64" width="15.14" height="15.14" fill="#463480" stroke="#e41a1c" stroke-width="0.6"/><rect x="214.57" y="365.64" width="15.14" height="15.14" fill="#414487" stroke="#e41a1c" stroke-width="0.6"/><rect x="168.56" y="380.97" width="15.14" height="15.14" fill="#31678e" stroke="#e41a1c" stroke-width="0.6"/><rect x="229.90" y="380.97" width="15.14" height="15.14" fill="#375a8c" stroke="#e41a1c" stroke-width="0.6"/><rect x="260.57" y="380.97" width="15.14" height="15.14" fill="#481d6f" stroke="#e41a1c" stroke-width="0.6"/><rect x="168.56" y="396.31" width="15.14" height="15.14" fill="#2c738e" stroke="#e41a1c" stroke-width="0.6"/><rect x="276.08" y="396.48" width="14.80" height="14.80" fill="#287d8e"/><rect x="76.55" y="411.64" width="15.14" height="15.14" fill="#482173" stroke="#e41a1c" stroke-width="0.6"/><rect x="230.07" y="411.81" width="14.80" height="14.80" fill="#1f958b"/><rect x="260.57" y="411.64" width="15.14" height="15.14" fill="#24868e" stroke="#e41a1c" stroke-width="0.6"/><rect x="76.55" y="426.98" width="15.14" height="15.14" fill="#482475" stroke="#e41a1c" stroke-width="0.6"/><rect x="184.07" y="427.15" width="14.80" height="14.80" fill="#1f9a8a"/><rect x="260.57" y="426.98" width="15.14" height="15.14" fill="#32648e" stroke="#e41a1c" stroke-width="0.6"/>
<g font-size="3.55" text-anchor="middle" font-weight="bold" text-rendering="geometricPrecision">
<g fill="#e41a1c"><text x="99.46" y="96.08">ρ= 0.02</text><text x="99.46" y="101.43">p=0.9</text></g><g fill="#e41a1c"><text x="114.79" y="96.08">ρ= -0.18</text><text x="114.79" y="101.43">p=0.7</text></g><g fill="#e41a1c"><text x="222.13" y="96.08">ρ= 0.21</text><text x="222.13" y="101.43">p=0.7</text></g><g fill="#e41a1c"><text x="252.81" y="96.08">ρ= 0.02</text><text x="252.81" y="101.43">p=0.9</text></g><g fill="#ffffff"><text x="268.14" y="96.08">ρ= -0.46</text><text x="268.14" y="101.43">p=0.037</text></g><g fill="#e41a1c"><text x="283.48" y="96.08">ρ= -0.13</text><text x="283.48" y="101.43">p=0.7</text></g><g fill="#e41a1c"><text x="298.81" y="96.08">ρ= 0.16</text><text x="298.81" y="101.43">p=0.4</text></g><g fill="#e41a1c"><text x="99.46" y="111.41">ρ= -0.06</text><text x="99.46" y="116.76">p=0.8</text></g><g fill="#e41a1c"><text x="114.79" y="111.41">ρ= 0.16</text><text x="114.79" y="116.76">p=0.5</text></g><g fill="#e41a1c"><text x="222.13" y="111.41">ρ= 0.13</text><text x="222.13" y="116.76">p=0.8</text></g><g fill="#e41a1c"><text x="252.81" y="111.41">ρ= -0.23</text><text x="252.81" y="116.76">p=0.3</text></g><g fill="#e41a1c"><text x="283.48" y="111.41">ρ= -0.11</text><text x="283.48" y="116.76">p=0.6</text></g><g fill="#e41a1c"><text x="298.81" y="111.41">ρ= 0</text><text x="298.81" y="116.76">p=0.9</text></g><g fill="#e41a1c"><text x="99.46" y="126.75">ρ= 0.03</text><text x="99.46" y="132.09">p=0.9</text></g><g fill="#e41a1c"><text x="114.79" y="126.75">ρ= -0.36</text><text x="114.79" y="132.09">p=0.4</text></g><g fill="#e41a1c"><text x="222.13" y="126.75">ρ= -0.14</text><text x="222.13" y="132.09">p=0.6</text></g><g fill="#e41a1c"><text x="252.81" y="126.75">ρ= -0.28</text><text x="252.81" y="132.09">p=0.3</text></g><g fill="#e41a1c"><text x="283.48" y="126.75">ρ= 0.01</text><text x="283.48" y="132.09">p=0.7</text></g><g fill="#e41a1c"><text x="298.81" y="126.75">ρ= -0.13</text><text x="298.81" y="132.09">p=0.6</text></g><g fill="#e41a1c"><text x="99.46" y="142.08">ρ= -0.21</text><text x="99.46" y="147.43">p=0.5</text></g><g fill="#e41a1c"><text x="114.79" y="142.08">ρ= -0.27</text><text x="114.79" y="147.43">p=0.6</text></g><g fill="#e41a1c"><text x="222.13" y="142.08">ρ= -0.11</text><text x="222.13" y="147.43">p=0.6</text></g><g fill="#e41a1c"><text x="252.81" y="142.08">ρ= -0.02</text><text x="252.81" y="147.43">p=0.9</text></g><g fill="#e41a1c"><text x="283.48" y="142.08">ρ= 0.08</text><text x="283.48" y="147.43">p=0.6</text></g><g fill="#e41a1c"><text x="298.81" y="142.08">ρ= -0.17</text><text x="298.81" y="147.43">p=0.4</text></g><g fill="#e41a1c"><text x="99.46" y="157.42">ρ= 0.1</text><text x="99.46" y="162.77">p=0.9</text></g><g fill="#e41a1c"><text x="114.79" y="157.42">ρ= -0.25</text><text x="114.79" y="162.77">p=0.6</text></g><g fill="#e41a1c"><text x="222.13" y="157.42">ρ= -0.05</text><text x="222.13" y="162.77">p=0.9</text></g><g fill="#e41a1c"><text x="252.81" y="157.42">ρ= 0.21</text><text x="252.81" y="162.77">p=0.3</text></g><g fill="#e41a1c"><text x="283.48" y="157.42">ρ= 0.4</text><text x="283.48" y="162.77">p=0.2</text></g><g fill="#e41a1c"><text x="298.81" y="157.42">ρ= -0.09</text><text x="298.81" y="162.77">p=0.7</text></g><g fill="#e41a1c"><text x="68.78" y="172.75">ρ= -0.45</text><text x="68.78" y="178.10">p=0.084</text></g><g fill="#e41a1c"><text x="99.46" y="172.75">ρ= -0.16</text><text x="99.46" y="178.10">p=0.7</text></g><g fill="#e41a1c"><text x="114.79" y="172.75">ρ= 0.22</text><text x="114.79" y="178.10">p=0.2</text></g><g fill="#ffffff"><text x="160.80" y="172.75">ρ= -0.43</text><text x="160.80" y="178.10">p=0.048</text></g><g fill="#ffffff"><text x="176.13" y="172.75">ρ= 0.4</text><text x="176.13" y="178.10">p=0.038</text></g><g fill="#ffffff"><text x="222.13" y="172.75">ρ= 0.33</text><text x="222.13" y="178.10">p=0.048</text></g><g fill="#e41a1c"><text x="99.46" y="203.42">ρ= 0.22</text><text x="99.46" y="208.77">p=0.4</text></g><g fill="#e41a1c"><text x="114.79" y="203.42">ρ= -0.28</text><text x="114.79" y="208.77">p=0.4</text></g><g fill="#ffffff"><text x="130.12" y="203.42">ρ= -0.16</text><text x="130.12" y="208.77">p=0.03</text></g><g fill="#e41a1c"><text x="160.80" y="203.42">ρ= -0.24</text><text x="160.80" y="208.77">p=0.3</text></g><g fill="#e41a1c"><text x="191.47" y="203.42">ρ= 0.23</text><text x="191.47" y="208.77">p=0.7</text></g><g fill="#e41a1c"><text x="206.80" y="203.42">ρ= 0.29</text><text x="206.80" y="208.77">p=0.3</text></g><g fill="#e41a1c"><text x="84.12" y="218.76">ρ= 0.04</text><text x="84.12" y="224.11">p=0.9</text></g><g fill="#e41a1c"><text x="99.46" y="218.76">ρ= -0.03</text><text x="99.46" y="224.11">p=0.9</text></g><g fill="#e41a1c"><text x="114.79" y="218.76">ρ= 0.22</text><text x="114.79" y="224.11">p=0.2</text></g><g fill="#e41a1c"><text x="99.46" y="234.09">ρ= -0.24</text><text x="99.46" y="239.44">p=0.3</text></g><g fill="#e41a1c"><text x="114.79" y="234.09">ρ= 0.19</text><text x="114.79" y="239.44">p=0.5</text></g><g fill="#e41a1c"><text x="130.12" y="234.09">ρ= 0.11</text><text x="130.12" y="239.44">p=0.6</text></g><g fill="#ffffff"><text x="176.13" y="234.09">ρ= 0.21</text><text x="176.13" y="239.44">p=0.046</text></g><g fill="#e41a1c"><text x="99.46" y="249.43">ρ= 0.23</text><text x="99.46" y="254.78">p=0.3</text></g><g fill="#e41a1c"><text x="114.79" y="249.43">ρ= -0.08</text><text x="114.79" y="254.78">p=0.9</text></g><g fill="#e41a1c"><text x="160.80" y="249.43">ρ= 0.09</text><text x="160.80" y="254.78">p=0.6</text></g><g fill="#e41a1c"><text x="191.47" y="249.43">ρ= -0.18</text><text x="191.47" y="254.78">p=0.6</text></g><g fill="#e41a1c"><text x="206.80" y="249.43">ρ= -0.44</text><text x="206.80" y="254.78">p=0.078</text></g><g fill="#e41a1c"><text x="99.46" y="264.76">ρ= -0.08</text><text x="99.46" y="270.11">p=0.6</text></g><g fill="#e41a1c"><text x="114.79" y="264.76">ρ= -0.34</text><text x="114.79" y="270.11">p=0.2</text></g><g fill="#e41a1c"><text x="130.12" y="264.76">ρ= -0.23</text><text x="130.12" y="270.11">p=0.6</text></g><g fill="#ffffff"><text x="237.47" y="280.09">ρ= -0.48</text><text x="237.47" y="285.44">p=0.036</text></g><g fill="#ffffff"><text x="268.14" y="280.09">ρ= -0.61</text><text x="268.14" y="285.44">p=0.019</text></g><g fill="#e41a1c"><text x="99.46" y="295.43">ρ= 0.21</text><text x="99.46" y="300.78">p=0.5</text></g><g fill="#e41a1c"><text x="114.79" y="295.43">ρ= 0.27</text><text x="114.79" y="300.78">p=0.4</text></g><g fill="#e41a1c"><text x="145.46" y="295.43">ρ= 0.21</text><text x="145.46" y="300.78">p=0.3</text></g><g fill="#e41a1c"><text x="191.47" y="295.43">ρ= 0.11</text><text x="191.47" y="300.78">p=0.8</text></g><g fill="#e41a1c"><text x="206.80" y="295.43">ρ= 0.43</text><text x="206.80" y="300.78">p=0.086</text></g><g fill="#ffffff"><text x="237.47" y="295.43">ρ= -0.41</text><text x="237.47" y="300.78">p=0.047</text></g><g fill="#ffffff"><text x="268.14" y="295.43">ρ= -0.64</text><text x="268.14" y="300.78">p=0.003</text></g><g fill="#e41a1c"><text x="99.46" y="310.76">ρ= 0.3</text><text x="99.46" y="316.12">p=0.2</text></g><g fill="#e41a1c"><text x="114.79" y="310.76">ρ= 0.02</text><text x="114.79" y="316.12">p=0.7</text></g><g fill="#e41a1c"><text x="145.46" y="310.76">ρ= -0.08</text><text x="145.46" y="316.12">p=0.8</text></g><g fill="#e41a1c"><text x="191.47" y="310.76">ρ= 0.51</text><text x="191.47" y="316.12">p=0.1</text></g><g fill="#e41a1c"><text x="206.80" y="310.76">ρ= 0.1</text><text x="206.80" y="316.12">p=0.8</text></g><g fill="#e41a1c"><text x="99.46" y="326.10">ρ= -0.2</text><text x="99.46" y="331.45">p=0.3</text></g><g fill="#e41a1c"><text x="114.79" y="326.10">ρ= -0.12</text><text x="114.79" y="331.45">p=0.6</text></g><g fill="#e41a1c"><text x="130.12" y="326.10">ρ= -0.17</text><text x="130.12" y="331.45">p=0.4</text></g><g fill="#e41a1c"><text x="160.80" y="326.10">ρ= -0.17</text><text x="160.80" y="331.45">p=0.4</text></g><g fill="#e41a1c"><text x="99.46" y="341.44">ρ= 0.23</text><text x="99.46" y="346.79">p=0.4</text></g><g fill="#e41a1c"><text x="114.79" y="341.44">ρ= 0.2</text><text x="114.79" y="346.79">p=0.5</text></g><g fill="#e41a1c"><text x="145.46" y="341.44">ρ= 0.28</text><text x="145.46" y="346.79">p=0.2</text></g><g fill="#e41a1c"><text x="191.47" y="341.44">ρ= 0.38</text><text x="191.47" y="346.79">p=0.2</text></g><g fill="#e41a1c"><text x="206.80" y="341.44">ρ= 0.2</text><text x="206.80" y="346.79">p=0.6</text></g><g fill="#ffffff"><text x="268.14" y="341.44">ρ= -0.54</text><text x="268.14" y="346.79">p=0.012</text></g><g fill="#e41a1c"><text x="99.46" y="372.11">ρ= -0.14</text><text x="99.46" y="377.46">p=0.6</text></g><g fill="#e41a1c"><text x="114.79" y="372.11">ρ= -0.13</text><text x="114.79" y="377.46">p=0.6</text></g><g fill="#e41a1c"><text x="145.46" y="372.11">ρ= -0.28</text><text x="145.46" y="377.46">p=0.3</text></g><g fill="#e41a1c"><text x="160.80" y="372.11">ρ= -0.15</text><text x="160.80" y="377.46">p=0.6</text></g><g fill="#e41a1c"><text x="222.13" y="372.11">ρ= -0.2</text><text x="222.13" y="377.46">p=0.3</text></g><g fill="#e41a1c"><text x="176.13" y="387.44">ρ= 0.33</text><text x="176.13" y="392.79">p=0.4</text></g><g fill="#e41a1c"><text x="237.47" y="387.44">ρ= 0.28</text><text x="237.47" y="392.79">p=0.1</text></g><g fill="#e41a1c"><text x="268.14" y="387.44">ρ= 0.08</text><text x="268.14" y="392.79">p=0.8</text></g><g fill="#e41a1c"><text x="176.13" y="402.77">ρ= 0.38</text><text x="176.13" y="408.12">p=0.2</text></g><g fill="#ffffff"><text x="283.48" y="402.77">ρ= 0.42</text><text x="283.48" y="408.12">p=0.048</text></g><g fill="#e41a1c"><text x="84.12" y="418.11">ρ= 0.09</text><text x="84.12" y="423.46">p=0.9</text></g><g fill="#ffffff"><text x="237.47" y="418.11">ρ= -0.52</text><text x="237.47" y="423.46">p=0.031</text></g><g fill="#e41a1c"><text x="268.14" y="418.11">ρ= -0.46</text><text x="268.14" y="423.46">p=0.066</text></g><g fill="#e41a1c"><text x="84.12" y="433.44">ρ= -0.1</text><text x="84.12" y="438.80">p=0.9</text></g><g fill="#ffffff"><text x="191.47" y="433.44">ρ= 0.54</text><text x="191.47" y="438.80">p=0.018</text></g><g fill="#e41a1c"><text x="268.14" y="433.44">ρ= 0.32</text><text x="268.14" y="438.80">p=0.2</text></g>
</g>
</g>
<g>
<text x="390.4" y="6.1" font-size="7.65" fill="#f2c010">Switzerland</text>
<rect x="390.65" y="11.30" width="294.35" height="432.45" fill="#ebebeb"/>
<path d="M390.65 20.50H685.00M390.65 35.84H685.00M390.65 51.17H685.00M390.65 66.50H685.00M390.65 81.84H685.00M390.65 97.18H685.00M390.65 112.51H685.00M390.65 127.84H685.00M390.65 143.18H685.00M390.65 158.52H685.00M390.65 173.85H685.00M390.65 189.19H685.00M390.65 204.52H685.00M390.65 219.86H685.00M390.65 235.19H685.00M390.65 250.53H685.00M390.65 265.86H685.00M390.65 281.19H685.00M390.65 296.53H685.00M390.65 311.87H685.00M390.65 327.20H685.00M390.65 342.54H685.00M390.65 357.87H685.00M390.65 373.21H685.00M390.65 388.54H685.00M390.65 403.88H685.00M390.65 419.21H685.00M390.65 434.55H685.00M399.85 11.30V443.75M415.19 11.30V443.75M430.52 11.30V443.75M445.86 11.30V443.75M461.19 11.30V443.75M476.53 11.30V443.75M491.86 11.30V443.75M507.20 11.30V443.75M522.53 11.30V443.75M537.87 11.30V443.75M553.20 11.30V443.75M568.54 11.30V443.75M583.87 11.30V443.75M599.21 11.30V443.75M614.54 11.30V443.75M629.88 11.30V443.75M645.21 11.30V443.75M660.55 11.30V443.75M675.88 11.30V443.75" stroke="#fcfcfc" stroke-width="0.85" fill="none"/>
<path d="M390.65 20.50h-1.9M390.65 35.84h-1.9M390.65 51.17h-1.9M390.65 66.50h-1.9M390.65 81.84h-1.9M390.65 97.18h-1.9M390.65 112.51h-1.9M390.65 127.84h-1.9M390.65 143.18h-1.9M390.65 158.52h-1.9M390.65 173.85h-1.9M390.65 189.19h-1.9M390.65 204.52h-1.9M390.65 219.86h-1.9M390.65 235.19h-1.9M390.65 250.53h-1.9M390.65 265.86h-1.9M390.65 281.19h-1.9M390.65 296.53h-1.9M390.65 311.87h-1.9M390.65 327.20h-1.9M390.65 342.54h-1.9M390.65 357.87h-1.9M390.65 373.21h-1.9M390.65 388.54h-1.9M390.65 403.88h-1.9M390.65 419.21h-1.9M390.65 434.55h-1.9M399.85 443.75v1.9M415.19 443.75v1.9M430.52 443.75v1.9M445.86 443.75v1.9M461.19 443.75v1.9M476.53 443.75v1.9M491.86 443.75v1.9M507.20 443.75v1.9M522.53 443.75v1.9M537.87 443.75v1.9M553.20 443.75v1.9M568.54 443.75v1.9M583.87 443.75v1.9M599.21 443.75v1.9M614.54 443.75v1.9M629.88 443.75v1.9M645.21 443.75v1.9M660.55 443.75v1.9M675.88 443.75v1.9" stroke="#333" stroke-width="0.75" fill="none"/>
<g font-size="6.35" fill="#4d4d4d" text-anchor="end">
<text x="387.45" y="22.75">F1 (overall)</text>
<text x="387.45" y="38.09">F1, 01</text>
<text x="387.45" y="53.42">F1, 02</text>
<text x="387.45" y="68.75">F1, 03</text>
<text x="387.45" y="84.09">F2 (overall)</text>
<text x="387.45" y="99.43">F2, 04</text>
<text x="387.45" y="114.76">F2, 05</text>
<text x="387.45" y="130.09">F2, 06</text>
<text x="387.45" y="145.43">F2, 07</text>
<text x="387.45" y="160.77">F2, 08</text>
<text x="387.45" y="176.10">F2, 09</text>
<text x="387.45" y="191.44">F3 (overall)</text>
<text x="387.45" y="206.77">F3, 10</text>
<text x="387.45" y="222.11">F3, 11</text>
<text x="387.45" y="237.44">F3, 12</text>
<text x="387.45" y="252.78">F3, 13</text>
<text x="387.45" y="268.11">F3, 14</text>
<text x="387.45" y="283.44">F4 (overall)</text>
<text x="387.45" y="298.78">F4, 15</text>
<text x="387.45" y="314.12">F4, 16</text>
<text x="387.45" y="329.45">F4, 17</text>
<text x="387.45" y="344.79">F4, 18</text>
<text x="387.45" y="360.12">F5 (overall)</text>
<text x="387.45" y="375.46">F5, 19</text>
<text x="387.45" y="390.79">F5, 20</text>
<text x="387.45" y="406.12">F5, 21</text>
<text x="387.45" y="421.46">F5, 22</text>
<text x="387.45" y="436.80">F5, 23</text>
</g>
<g font-size="6.35" fill="#4d4d4d" text-anchor="end">
<text transform="translate(404.45 447.35) rotate(-90)">FcT250</text>
<text transform="translate(419.79 447.35) rotate(-90)">FLiT1000</text>
<text transform="translate(435.12 447.35) rotate(-90)">FLiT250</text>
<text transform="translate(450.46 447.35) rotate(-90)">IS</text>
<text transform="translate(465.79 447.35) rotate(-90)">IV</text>
<text transform="translate(481.13 447.35) rotate(-90)">L5m</text>
<text transform="translate(496.46 447.35) rotate(-90)">L5mde</text>
<text transform="translate(511.80 447.35) rotate(-90)">L5mn</text>
<text transform="translate(527.13 447.35) rotate(-90)">LE</text>
<text transform="translate(542.47 447.35) rotate(-90)">LLiT10</text>
<text transform="translate(557.80 447.35) rotate(-90)">LLiT250</text>
<text transform="translate(573.14 447.35) rotate(-90)">M10m</text>
<text transform="translate(588.47 447.35) rotate(-90)">MPratio</text>
<text transform="translate(603.81 447.35) rotate(-90)">PAT1000</text>
<text transform="translate(619.14 447.35) rotate(-90)">SCmelEDI</text>
<text transform="translate(634.48 447.35) rotate(-90)">TAT1000</text>
<text transform="translate(649.81 447.35) rotate(-90)">TAT250</text>
<text transform="translate(665.15 447.35) rotate(-90)">TATd250</text>
<text transform="translate(680.48 447.35) rotate(-90)">TBTle10</text>
</g>
<text x="537.87" y="483.8" font-size="7.6" text-anchor="middle" fill="#000">Metrics</text>
<text transform="translate(352.15 227.52) rotate(-90)" font-size="7.6" text-anchor="middle" fill="#000">LEBA questions and factors</text>
<g font-size="3.55" text-anchor="middle" fill="#bfbfbf" text-rendering="geometricPrecision">
<text x="415.19" y="19.40">ρ= -0.02</text><text x="415.19" y="24.75">p=0.5</text><text x="430.52" y="19.40">ρ= -0.05</text><text x="430.52" y="24.75">p=0.3</text><text x="461.19" y="19.40">ρ= 0.04</text><text x="461.19" y="24.75">p=0.2</text><text x="476.53" y="19.40">ρ= -0.04</text><text x="476.53" y="24.75">p=0.4</text><text x="491.86" y="19.40">ρ= 0.05</text><text x="491.86" y="24.75">p=0.9</text><text x="507.20" y="19.40">ρ= 0.23</text><text x="507.20" y="24.75">p=0.5</text><text x="553.20" y="19.40">ρ= 0.1</text><text x="553.20" y="24.75">p=0.8</text><text x="583.87" y="19.40">ρ= 0.01</text><text x="583.87" y="24.75">p=0.1</text><text x="614.54" y="19.40">ρ= 0.05</text><text x="614.54" y="24.75">p=0.8</text><text x="675.88" y="19.40">ρ= -0.08</text><text x="675.88" y="24.75">p=0.6</text><text x="415.19" y="34.73">ρ= 0.23</text><text x="415.19" y="40.09">p=0.1</text><text x="430.52" y="34.73">ρ= -0.02</text><text x="430.52" y="40.09">p=0.6</text><text x="461.19" y="34.73">ρ= -0.07</text><text x="461.19" y="40.09">p=0.2</text><text x="476.53" y="34.73">ρ= -0.01</text><text x="476.53" y="40.09">p=0.2</text><text x="491.86" y="34.73">ρ= 0.15</text><text x="491.86" y="40.09">p=0.7</text><text x="507.20" y="34.73">ρ= 0.01</text><text x="507.20" y="40.09">p=0.8</text><text x="522.53" y="34.73">ρ= -0.04</text><text x="522.53" y="40.09">p=0.9</text><text x="553.20" y="34.73">ρ= 0.23</text><text x="553.20" y="40.09">p=0.09</text><text x="583.87" y="34.73">ρ= 0.24</text><text x="583.87" y="40.09">p=0.1</text><text x="599.21" y="34.73">ρ= -0.04</text><text x="599.21" y="40.09">p=0.1</text><text x="614.54" y="34.73">ρ= 0.02</text><text x="614.54" y="40.09">p=0.7</text><text x="645.21" y="34.73">ρ= 0.06</text><text x="645.21" y="40.09">p=0.1</text><text x="660.55" y="34.73">ρ= -0.19</text><text x="660.55" y="40.09">p=0.6</text><text x="399.85" y="50.07">ρ= -0.07</text><text x="399.85" y="55.42">p=0.4</text><text x="415.19" y="50.07">ρ= -0.07</text><text x="415.19" y="55.42">p=0.9</text><text x="430.52" y="50.07">ρ= -0.17</text><text x="430.52" y="55.42">p=0.4</text><text x="445.86" y="50.07">ρ= -0.19</text><text x="445.86" y="55.42">p=0.6</text><text x="461.19" y="50.07">ρ= -0.21</text><text x="461.19" y="55.42">p=0.3</text><text x="491.86" y="50.07">ρ= -0.19</text><text x="491.86" y="55.42">p=0.1</text><text x="507.20" y="50.07">ρ= 0.19</text><text x="507.20" y="55.42">p=0.4</text><text x="537.87" y="50.07">ρ= 0.01</text><text x="537.87" y="55.42">p=0.6</text><text x="553.20" y="50.07">ρ= 0.22</text><text x="553.20" y="55.42">p=0.1</text><text x="614.54" y="50.07">ρ= -0.04</text><text x="614.54" y="55.42">p=0.1</text><text x="675.88" y="50.07">ρ= -0.06</text><text x="675.88" y="55.42">p=0.7</text><text x="415.19" y="65.41">ρ= -0.01</text><text x="415.19" y="70.75">p=0.5</text><text x="430.52" y="65.41">ρ= -0.17</text><text x="430.52" y="70.75">p=0.8</text><text x="445.86" y="65.41">ρ= -0.14</text><text x="445.86" y="70.75">p=0.9</text><text x="461.19" y="65.41">ρ= 0.05</text><text x="461.19" y="70.75">p=0.9</text><text x="476.53" y="65.41">ρ= -0.2</text><text x="476.53" y="70.75">p=0.4</text><text x="491.86" y="65.41">ρ= -0.11</text><text x="491.86" y="70.75">p=0.1</text><text x="507.20" y="65.41">ρ= 0.19</text><text x="507.20" y="70.75">p=0.5</text><text x="522.53" y="65.41">ρ= 0.13</text><text x="522.53" y="70.75">p=0.1</text><text x="553.20" y="65.41">ρ= -0.08</text><text x="553.20" y="70.75">p=0.4</text><text x="583.87" y="65.41">ρ= -0.23</text><text x="583.87" y="70.75">p=0.4</text><text x="599.21" y="65.41">ρ= -0.22</text><text x="599.21" y="70.75">p=0.07</text><text x="614.54" y="65.41">ρ= -0.06</text><text x="614.54" y="70.75">p=0.4</text><text x="629.88" y="65.41">ρ= 0.11</text><text x="629.88" y="70.75">p=0.4</text><text x="645.21" y="65.41">ρ= 0.05</text><text x="645.21" y="70.75">p=0.5</text><text x="660.55" y="65.41">ρ= 0.14</text><text x="660.55" y="70.75">p=0.7</text><text x="675.88" y="65.41">ρ= 0.15</text><text x="675.88" y="70.75">p=0.4</text><text x="399.85" y="80.74">ρ= -0.12</text><text x="399.85" y="86.09">p=0.8</text><text x="415.19" y="80.74">ρ= -0.16</text><text x="415.19" y="86.09">p=0.7</text><text x="430.52" y="80.74">ρ= -0.1</text><text x="430.52" y="86.09">p=0.7</text><text x="445.86" y="80.74">ρ= -0.13</text><text x="445.86" y="86.09">p=0.2</text><text x="461.19" y="80.74">ρ= -0.15</text><text x="461.19" y="86.09">p=0.7</text><text x="476.53" y="80.74">ρ= 0.04</text><text x="476.53" y="86.09">p=0.3</text><text x="537.87" y="80.74">ρ= 0.21</text><text x="537.87" y="86.09">p=0.3</text><text x="553.20" y="80.74">ρ= 0.03</text><text x="553.20" y="86.09">p=0.3</text><text x="583.87" y="80.74">ρ= -0.14</text><text x="583.87" y="86.09">p=0.4</text><text x="614.54" y="80.74">ρ= -0.07</text><text x="614.54" y="86.09">p=0.2</text><text x="399.85" y="96.08">ρ= 0.26</text><text x="399.85" y="101.43">p=0.1</text><text x="430.52" y="96.08">ρ= 0.02</text><text x="430.52" y="101.43">p=0.4</text><text x="476.53" y="96.08">ρ= -0.2</text><text x="476.53" y="101.43">p=0.3</text><text x="507.20" y="96.08">ρ= -0.06</text><text x="507.20" y="101.43">p=0.1</text><text x="537.87" y="96.08">ρ= -0.06</text><text x="537.87" y="101.43">p=0.8</text><text x="553.20" y="96.08">ρ= -0.01</text><text x="553.20" y="101.43">p=0.4</text><text x="583.87" y="96.08">ρ= -0.17</text><text x="583.87" y="101.43">p=0.5</text><text x="614.54" y="96.08">ρ= 0.06</text><text x="614.54" y="101.43">p=0.1</text><text x="415.19" y="111.41">ρ= -0.14</text><text x="415.19" y="116.76">p=0.4</text><text x="430.52" y="111.41">ρ= 0.05</text><text x="430.52" y="116.76">p=0.8</text><text x="476.53" y="111.41">ρ= 0.13</text><text x="476.53" y="116.76">p=0.7</text><text x="491.86" y="111.41">ρ= -0.21</text><text x="491.86" y="116.76">p=0.3</text><text x="507.20" y="111.41">ρ= 0.22</text><text x="507.20" y="116.76">p=0.4</text><text x="522.53" y="111.41">ρ= 0.13</text><text x="522.53" y="116.76">p=0.3</text><text x="537.87" y="111.41">ρ= -0.15</text><text x="537.87" y="116.76">p=0.5</text><text x="583.87" y="111.41">ρ= -0.05</text><text x="583.87" y="116.76">p=0.7</text><text x="614.54" y="111.41">ρ= -0.05</text><text x="614.54" y="116.76">p=0.4</text><text x="675.88" y="111.41">ρ= 0.15</text><text x="675.88" y="116.76">p=0.3</text><text x="399.85" y="126.75">ρ= -0.11</text><text x="399.85" y="132.09">p=0.1</text><text x="415.19" y="126.75">ρ= -0.12</text><text x="415.19" y="132.09">p=0.6</text><text x="430.52" y="126.75">ρ= -0.23</text><text x="430.52" y="132.09">p=0.2</text><text x="476.53" y="126.75">ρ= -0.08</text><text x="476.53" y="132.09">p=0.5</text><text x="491.86" y="126.75">ρ= -0.01</text><text x="491.86" y="132.09">p=0.5</text><text x="537.87" y="126.75">ρ= -0.17</text><text x="537.87" y="132.09">p=0.9</text><text x="553.20" y="126.75">ρ= -0.12</text><text x="553.20" y="132.09">p=0.1</text><text x="660.55" y="126.75">ρ= 0.1</text><text x="660.55" y="132.09">p=0.2</text><text x="399.85" y="142.08">ρ= -0.11</text><text x="399.85" y="147.43">p=0.6</text><text x="415.19" y="142.08">ρ= -0.12</text><text x="415.19" y="147.43">p=0.4</text><text x="430.52" y="142.08">ρ= -0.04</text><text x="430.52" y="147.43">p=0.7</text><text x="476.53" y="142.08">ρ= -0.12</text><text x="476.53" y="147.43">p=0.9</text><text x="491.86" y="142.08">ρ= 0.25</text><text x="491.86" y="147.43">p=0.2</text><text x="537.87" y="142.08">ρ= -0.05</text><text x="537.87" y="147.43">p=0.4</text><text x="614.54" y="142.08">ρ= -0.01</text><text x="614.54" y="147.43">p=0.4</text><text x="399.85" y="157.42">ρ= -0.15</text><text x="399.85" y="162.77">p=0.7</text><text x="430.52" y="157.42">ρ= 0.05</text><text x="430.52" y="162.77">p=0.3</text><text x="476.53" y="157.42">ρ= 0.09</text><text x="476.53" y="162.77">p=0.9</text><text x="507.20" y="157.42">ρ= -0.26</text><text x="507.20" y="162.77">p=0.4</text><text x="537.87" y="157.42">ρ= -0.04</text><text x="537.87" y="162.77">p=0.2</text><text x="399.85" y="172.75">ρ= -0.2</text><text x="399.85" y="178.10">p=0.3</text><text x="476.53" y="172.75">ρ= -0.15</text><text x="476.53" y="178.10">p=0.7</text><text x="491.86" y="172.75">ρ= -0.07</text><text x="491.86" y="178.10">p=0.6</text><text x="507.20" y="172.75">ρ= -0.1</text><text x="507.20" y="178.10">p=0.3</text><text x="522.53" y="172.75">ρ= 0.15</text><text x="522.53" y="178.10">p=0.8</text><text x="537.87" y="172.75">ρ= -0.07</text><text x="537.87" y="178.10">p=0.8</text><text x="568.54" y="172.75">ρ= -0.17</text><text x="568.54" y="178.10">p=0.7</text><text x="583.87" y="172.75">ρ= -0.16</text><text x="583.87" y="178.10">p=0.5</text><text x="614.54" y="172.75">ρ= 0.2</text><text x="614.54" y="178.10">p=0.2</text><text x="629.88" y="172.75">ρ= 0.06</text><text x="629.88" y="178.10">p=0.5</text><text x="645.21" y="172.75">ρ= -0.15</text><text x="645.21" y="178.10">p=0.1</text><text x="660.55" y="172.75">ρ= -0.03</text><text x="660.55" y="178.10">p=0.3</text><text x="675.88" y="172.75">ρ= -0.02</text><text x="675.88" y="178.10">p=0.8</text><text x="399.85" y="188.09">ρ= -0.19</text><text x="399.85" y="193.44">p=0.2</text><text x="415.19" y="188.09">ρ= -0.15</text><text x="415.19" y="193.44">p=0.1</text><text x="430.52" y="188.09">ρ= -0.04</text><text x="430.52" y="193.44">p=0.1</text><text x="445.86" y="188.09">ρ= -0.05</text><text x="445.86" y="193.44">p=0.1</text><text x="461.19" y="188.09">ρ= -0.21</text><text x="461.19" y="193.44">p=0.1</text><text x="476.53" y="188.09">ρ= -0.07</text><text x="476.53" y="193.44">p=0.2</text><text x="491.86" y="188.09">ρ= -0.19</text><text x="491.86" y="193.44">p=0.2</text><text x="522.53" y="188.09">ρ= 0.14</text><text x="522.53" y="193.44">p=0.8</text><text x="537.87" y="188.09">ρ= 0.23</text><text x="537.87" y="193.44">p=0.3</text><text x="583.87" y="188.09">ρ= 0.21</text><text x="583.87" y="193.44">p=0.1</text><text x="614.54" y="188.09">ρ= 0.04</text><text x="614.54" y="193.44">p=0.1</text><text x="675.88" y="188.09">ρ= -0.16</text><text x="675.88" y="193.44">p=0.2</text><text x="399.85" y="203.42">ρ= -0.05</text><text x="399.85" y="208.77">p=0.3</text><text x="415.19" y="203.42">ρ= -0.1</text><text x="415.19" y="208.77">p=0.6</text><text x="430.52" y="203.42">ρ= -0.1</text><text x="430.52" y="208.77">p=0.2</text><text x="476.53" y="203.42">ρ= -0.05</text><text x="476.53" y="208.77">p=0.2</text><text x="491.86" y="203.42">ρ= 0.22</text><text x="491.86" y="208.77">p=0.06</text><text x="568.54" y="203.42">ρ= -0.1</text><text x="568.54" y="208.77">p=0.6</text><text x="583.87" y="203.42">ρ= 0.06</text><text x="583.87" y="208.77">p=0.5</text><text x="599.21" y="203.42">ρ= -0.09</text><text x="599.21" y="208.77">p=0.9</text><text x="614.54" y="203.42">ρ= -0.04</text><text x="614.54" y="208.77">p=0.4</text><text x="629.88" y="203.42">ρ= 0.01</text><text x="629.88" y="208.77">p=0.6</text><text x="645.21" y="203.42">ρ= 0.18</text><text x="645.21" y="208.77">p=0.9</text><text x="660.55" y="203.42">ρ= -0.11</text><text x="660.55" y="208.77">p=0.5</text><text x="675.88" y="203.42">ρ= -0.01</text><text x="675.88" y="208.77">p=0.7</text><text x="399.85" y="218.76">ρ= 0.03</text><text x="399.85" y="224.11">p=0.1</text><text x="415.19" y="218.76">ρ= 0.08</text><text x="415.19" y="224.11">p=0.5</text><text x="476.53" y="218.76">ρ= 0.13</text><text x="476.53" y="224.11">p=0.9</text><text x="491.86" y="218.76">ρ= -0.09</text><text x="491.86" y="224.11">p=0.4</text><text x="507.20" y="218.76">ρ= 0.02</text><text x="507.20" y="224.11">p=0.3</text><text x="522.53" y="218.76">ρ= -0.21</text><text x="522.53" y="224.11">p=0.2</text><text x="537.87" y="218.76">ρ= 0.25</text><text x="537.87" y="224.11">p=0.4</text><text x="553.20" y="218.76">ρ= -0.25</text><text x="553.20" y="224.11">p=0.3</text><text x="568.54" y="218.76">ρ= -0.07</text><text x="568.54" y="224.11">p=0.3</text><text x="583.87" y="218.76">ρ= -0.03</text><text x="583.87" y="224.11">p=0.9</text><text x="599.21" y="218.76">ρ= -0.19</text><text x="599.21" y="224.11">p=0.1</text><text x="614.54" y="218.76">ρ= 0.13</text><text x="614.54" y="224.11">p=0.4</text><text x="629.88" y="218.76">ρ= 0.02</text><text x="629.88" y="224.11">p=0.3</text><text x="645.21" y="218.76">ρ= -0.01</text><text x="645.21" y="224.11">p=0.8</text><text x="660.55" y="218.76">ρ= -0.14</text><text x="660.55" y="224.11">p=0.6</text><text x="675.88" y="218.76">ρ= 0.23</text><text x="675.88" y="224.11">p=0.3</text><text x="522.53" y="234.09">ρ= 0.03</text><text x="522.53" y="239.44">p=0.7</text><text x="537.87" y="234.09">ρ= 0.14</text><text x="537.87" y="239.44">p=0.7</text><text x="553.20" y="234.09">ρ= -0.01</text><text x="553.20" y="239.44">p=0.6</text><text x="583.87" y="234.09">ρ= 0.19</text><text x="583.87" y="239.44">p=0.1</text><text x="614.54" y="234.09">ρ= -0.22</text><text x="614.54" y="239.44">p=0.2</text><text x="629.88" y="234.09">ρ= -0.23</text><text x="629.88" y="239.44">p=0.3</text><text x="675.88" y="234.09">ρ= -0.22</text><text x="675.88" y="239.44">p=0.1</text><text x="415.19" y="249.43">ρ= -0.13</text><text x="415.19" y="254.78">p=0.3</text><text x="476.53" y="249.43">ρ= -0.04</text><text x="476.53" y="254.78">p=0.1</text><text x="491.86" y="249.43">ρ= -0.09</text><text x="491.86" y="254.78">p=0.6</text><text x="522.53" y="249.43">ρ= -0.11</text><text x="522.53" y="254.78">p=0.5</text><text x="568.54" y="249.43">ρ= -0.19</text><text x="568.54" y="254.78">p=0.4</text><text x="583.87" y="249.43">ρ= 0.23</text><text x="583.87" y="254.78">p=0.2</text><text x="614.54" y="249.43">ρ= -0.16</text><text x="614.54" y="254.78">p=0.6</text><text x="629.88" y="249.43">ρ= 0.25</text><text x="629.88" y="254.78">p=0.2</text><text x="645.21" y="249.43">ρ= -0.12</text><text x="645.21" y="254.78">p=0.1</text><text x="660.55" y="249.43">ρ= -0.04</text><text x="660.55" y="254.78">p=0.2</text><text x="415.19" y="264.76">ρ= -0.09</text><text x="415.19" y="270.11">p=0.1</text><text x="491.86" y="264.76">ρ= 0.03</text><text x="491.86" y="270.11">p=0.9</text><text x="507.20" y="264.76">ρ= -0.04</text><text x="507.20" y="270.11">p=0.2</text><text x="522.53" y="264.76">ρ= -0.01</text><text x="522.53" y="270.11">p=0.7</text><text x="537.87" y="264.76">ρ= -0.1</text><text x="537.87" y="270.11">p=0.7</text><text x="568.54" y="264.76">ρ= -0.08</text><text x="568.54" y="270.11">p=0.7</text><text x="614.54" y="264.76">ρ= 0.21</text><text x="614.54" y="270.11">p=0.3</text><text x="629.88" y="264.76">ρ= -0.06</text><text x="629.88" y="270.11">p=0.6</text><text x="645.21" y="264.76">ρ= -0.1</text><text x="645.21" y="270.11">p=0.9</text><text x="660.55" y="264.76">ρ= -0.23</text><text x="660.55" y="270.11">p=0.08</text><text x="675.88" y="264.76">ρ= -0.01</text><text x="675.88" y="270.11">p=0.1</text><text x="399.85" y="280.09">ρ= 0.16</text><text x="399.85" y="285.44">p=0.6</text><text x="415.19" y="280.09">ρ= -0.06</text><text x="415.19" y="285.44">p=0.7</text><text x="430.52" y="280.09">ρ= -0.25</text><text x="430.52" y="285.44">p=0.4</text><text x="445.86" y="280.09">ρ= 0.02</text><text x="445.86" y="285.44">p=0.4</text><text x="461.19" y="280.09">ρ= 0.18</text><text x="461.19" y="285.44">p=0.5</text><text x="476.53" y="280.09">ρ= -0.03</text><text x="476.53" y="285.44">p=0.8</text><text x="491.86" y="280.09">ρ= -0.25</text><text x="491.86" y="285.44">p=0.1</text><text x="522.53" y="280.09">ρ= -0.11</text><text x="522.53" y="285.44">p=0.8</text><text x="537.87" y="280.09">ρ= -0.24</text><text x="537.87" y="285.44">p=0.4</text><text x="553.20" y="280.09">ρ= 0.07</text><text x="553.20" y="285.44">p=0.3</text><text x="568.54" y="280.09">ρ= 0.25</text><text x="568.54" y="285.44">p=0.3</text><text x="583.87" y="280.09">ρ= 0.07</text><text x="583.87" y="285.44">p=0.6</text><text x="599.21" y="280.09">ρ= -0.21</text><text x="599.21" y="285.44">p=0.3</text><text x="614.54" y="280.09">ρ= -0.13</text><text x="614.54" y="285.44">p=0.9</text><text x="645.21" y="280.09">ρ= -0.08</text><text x="645.21" y="285.44">p=0.7</text><text x="415.19" y="295.43">ρ= 0.19</text><text x="415.19" y="300.78">p=0.3</text><text x="476.53" y="295.43">ρ= -0.06</text><text x="476.53" y="300.78">p=0.1</text><text x="522.53" y="295.43">ρ= -0.06</text><text x="522.53" y="300.78">p=0.2</text><text x="568.54" y="295.43">ρ= -0.06</text><text x="568.54" y="300.78">p=0.2</text><text x="583.87" y="295.43">ρ= 0.03</text><text x="583.87" y="300.78">p=0.9</text><text x="599.21" y="295.43">ρ= 0.16</text><text x="599.21" y="300.78">p=0.9</text><text x="614.54" y="295.43">ρ= -0.12</text><text x="614.54" y="300.78">p=0.5</text><text x="629.88" y="295.43">ρ= -0.2</text><text x="629.88" y="300.78">p=0.1</text><text x="645.21" y="295.43">ρ= 0.24</text><text x="645.21" y="300.78">p=0.1</text><text x="660.55" y="295.43">ρ= 0.02</text><text x="660.55" y="300.78">p=0.4</text><text x="399.85" y="310.76">ρ= 0.04</text><text x="399.85" y="316.12">p=0.3</text><text x="430.52" y="310.76">ρ= -0.19</text><text x="430.52" y="316.12">p=0.5</text><text x="476.53" y="310.76">ρ= -0.12</text><text x="476.53" y="316.12">p=0.4</text><text x="522.53" y="310.76">ρ= -0.05</text><text x="522.53" y="316.12">p=0.6</text><text x="583.87" y="310.76">ρ= -0.22</text><text x="583.87" y="316.12">p=0.3</text><text x="599.21" y="310.76">ρ= -0.11</text><text x="599.21" y="316.12">p=0.2</text><text x="614.54" y="310.76">ρ= -0.04</text><text x="614.54" y="316.12">p=0.2</text><text x="675.88" y="310.76">ρ= 0.06</text><text x="675.88" y="316.12">p=0.6</text><text x="399.85" y="326.10">ρ= -0.09</text><text x="399.85" y="331.45">p=0.5</text><text x="415.19" y="326.10">ρ= -0.05</text><text x="415.19" y="331.45">p=0.9</text><text x="430.52" y="326.10">ρ= -0.08</text><text x="430.52" y="331.45">p=0.1</text><text x="491.86" y="326.10">ρ= 0.1</text><text x="491.86" y="331.45">p=0.1</text><text x="522.53" y="326.10">ρ= -0.14</text><text x="522.53" y="331.45">p=0.4</text><text x="537.87" y="326.10">ρ= 0.14</text><text x="537.87" y="331.45">p=0.1</text><text x="553.20" y="326.10">ρ= -0.26</text><text x="553.20" y="331.45">p=0.4</text><text x="568.54" y="326.10">ρ= -0.13</text><text x="568.54" y="331.45">p=0.2</text><text x="614.54" y="326.10">ρ= -0.09</text><text x="614.54" y="331.45">p=0.9</text><text x="645.21" y="326.10">ρ= 0.2</text><text x="645.21" y="331.45">p=0.5</text><text x="660.55" y="326.10">ρ= -0.21</text><text x="660.55" y="331.45">p=0.2</text><text x="675.88" y="326.10">ρ= -0.08</text><text x="675.88" y="331.45">p=0.1</text><text x="399.85" y="341.44">ρ= -0.13</text><text x="399.85" y="346.79">p=0.8</text><text x="430.52" y="341.44">ρ= -0.11</text><text x="430.52" y="346.79">p=0.8</text><text x="476.53" y="341.44">ρ= -0.22</text><text x="476.53" y="346.79">p=0.3</text><text x="522.53" y="341.44">ρ= -0.17</text><text x="522.53" y="346.79">p=0.1</text><text x="568.54" y="341.44">ρ= -0.13</text><text x="568.54" y="346.79">p=0.6</text><text x="583.87" y="341.44">ρ= 0.11</text><text x="583.87" y="346.79">p=0.2</text><text x="599.21" y="341.44">ρ= -0.08</text><text x="599.21" y="346.79">p=0.3</text><text x="614.54" y="341.44">ρ= 0.05</text><text x="614.54" y="346.79">p=0.1</text><text x="675.88" y="341.44">ρ= -0.24</text><text x="675.88" y="346.79">p=0.08</text><text x="445.86" y="356.77">ρ= 0.23</text><text x="445.86" y="362.12">p=0.4</text><text x="461.19" y="356.77">ρ= -0.05</text><text x="461.19" y="362.12">p=0.5</text><text x="476.53" y="356.77">ρ= 0.15</text><text x="476.53" y="362.12">p=0.9</text><text x="522.53" y="356.77">ρ= -0.02</text><text x="522.53" y="362.12">p=0.3</text><text x="537.87" y="356.77">ρ= -0.24</text><text x="537.87" y="362.12">p=0.3</text><text x="583.87" y="356.77">ρ= -0.14</text><text x="583.87" y="362.12">p=0.4</text><text x="599.21" y="356.77">ρ= 0.02</text><text x="599.21" y="362.12">p=0.3</text><text x="614.54" y="356.77">ρ= -0.08</text><text x="614.54" y="362.12">p=0.4</text><text x="629.88" y="356.77">ρ= -0.03</text><text x="629.88" y="362.12">p=0.3</text><text x="675.88" y="356.77">ρ= -0.23</text><text x="675.88" y="362.12">p=0.4</text><text x="399.85" y="372.11">ρ= -0.17</text><text x="399.85" y="377.46">p=0.2</text><text x="415.19" y="372.11">ρ= -0.03</text><text x="415.19" y="377.46">p=0.8</text><text x="430.52" y="372.11">ρ= -0.24</text><text x="430.52" y="377.46">p=0.4</text><text x="476.53" y="372.11">ρ= 0.03</text><text x="476.53" y="377.46">p=0.5</text><text x="522.53" y="372.11">ρ= -0.24</text><text x="522.53" y="377.46">p=0.2</text><text x="537.87" y="372.11">ρ= -0.15</text><text x="537.87" y="377.46">p=0.5</text><text x="553.20" y="372.11">ρ= -0.07</text><text x="553.20" y="377.46">p=0.3</text><text x="583.87" y="372.11">ρ= -0.15</text><text x="583.87" y="377.46">p=0.2</text><text x="599.21" y="372.11">ρ= -0.18</text><text x="599.21" y="377.46">p=0.2</text><text x="675.88" y="372.11">ρ= -0.13</text><text x="675.88" y="377.46">p=0.2</text><text x="430.52" y="387.44">ρ= -0.05</text><text x="430.52" y="392.79">p=0.4</text><text x="445.86" y="387.44">ρ= -0.01</text><text x="445.86" y="392.79">p=0.6</text><text x="461.19" y="387.44">ρ= -0.07</text><text x="461.19" y="392.79">p=0.2</text><text x="476.53" y="387.44">ρ= -0.02</text><text x="476.53" y="392.79">p=0.5</text><text x="491.86" y="387.44">ρ= -0.02</text><text x="491.86" y="392.79">p=0.9</text><text x="507.20" y="387.44">ρ= -0.15</text><text x="507.20" y="392.79">p=0.8</text><text x="537.87" y="387.44">ρ= -0.13</text><text x="537.87" y="392.79">p=0.8</text><text x="553.20" y="387.44">ρ= -0.05</text><text x="553.20" y="392.79">p=0.2</text><text x="675.88" y="387.44">ρ= -0.09</text><text x="675.88" y="392.79">p=0.3</text><text x="445.86" y="402.77">ρ= -0.24</text><text x="445.86" y="408.12">p=0.1</text><text x="461.19" y="402.77">ρ= -0.09</text><text x="461.19" y="408.12">p=0.2</text><text x="507.20" y="402.77">ρ= 0.25</text><text x="507.20" y="408.12">p=0.1</text><text x="553.20" y="402.77">ρ= 0.01</text><text x="553.20" y="408.12">p=0.8</text><text x="568.54" y="402.77">ρ= -0.11</text><text x="568.54" y="408.12">p=0.4</text><text x="583.87" y="402.77">ρ= 0.06</text><text x="583.87" y="408.12">p=0.4</text><text x="599.21" y="402.77">ρ= -0.23</text><text x="599.21" y="408.12">p=0.1</text><text x="614.54" y="402.77">ρ= 0.04</text><text x="614.54" y="408.12">p=0.8</text><text x="629.88" y="402.77">ρ= 0.19</text><text x="629.88" y="408.12">p=0.7</text><text x="645.21" y="402.77">ρ= -0.14</text><text x="645.21" y="408.12">p=0.8</text><text x="660.55" y="402.77">ρ= 0.18</text><text x="660.55" y="408.12">p=0.7</text><text x="675.88" y="402.77">ρ= -0.04</text><text x="675.88" y="408.12">p=0.6</text><text x="399.85" y="418.11">ρ= 0.15</text><text x="399.85" y="423.46">p=0.2</text><text x="415.19" y="418.11">ρ= -0.04</text><text x="415.19" y="423.46">p=0.1</text><text x="445.86" y="418.11">ρ= 0.12</text><text x="445.86" y="423.46">p=0.8</text><text x="476.53" y="418.11">ρ= -0.12</text><text x="476.53" y="423.46">p=0.4</text><text x="491.86" y="418.11">ρ= -0.21</text><text x="491.86" y="423.46">p=0.4</text><text x="507.20" y="418.11">ρ= -0.02</text><text x="507.20" y="423.46">p=0.4</text><text x="522.53" y="418.11">ρ= -0.03</text><text x="522.53" y="423.46">p=0.6</text><text x="537.87" y="418.11">ρ= -0.04</text><text x="537.87" y="423.46">p=0.8</text><text x="553.20" y="418.11">ρ= -0.01</text><text x="553.20" y="423.46">p=0.7</text><text x="568.54" y="418.11">ρ= 0.14</text><text x="568.54" y="423.46">p=0.1</text><text x="599.21" y="418.11">ρ= 0.24</text><text x="599.21" y="423.46">p=0.5</text><text x="629.88" y="418.11">ρ= -0.03</text><text x="629.88" y="423.46">p=0.7</text><text x="445.86" y="433.44">ρ= -0.19</text><text x="445.86" y="438.80">p=0.8</text><text x="461.19" y="433.44">ρ= 0.18</text><text x="461.19" y="438.80">p=0.1</text><text x="476.53" y="433.44">ρ= -0.25</text><text x="476.53" y="438.80">p=0.3</text><text x="507.20" y="433.44">ρ= 0.01</text><text x="507.20" y="438.80">p=0.8</text><text x="522.53" y="433.44">ρ= -0.01</text><text x="522.53" y="438.80">p=0.9</text><text x="537.87" y="433.44">ρ= -0.14</text><text x="537.87" y="438.80">p=0.2</text><text x="583.87" y="433.44">ρ= -0.05</text><text x="583.87" y="438.80">p=0.8</text><text x="599.21" y="433.44">ρ= -0.01</text><text x="599.21" y="438.80">p=0.9</text><text x="629.88" y="433.44">ρ= 0.04</text><text x="629.88" y="438.80">p=0.1</text><text x="645.21" y="433.44">ρ= 0.15</text><text x="645.21" y="438.80">p=0.5</text><text x="660.55" y="433.44">ρ= -0.17</text><text x="660.55" y="438.80">p=0.1</text>
</g>
<rect x="392.45" y="13.10" width="14.80" height="14.80" fill="#463480"/><rect x="438.46" y="13.10" width="14.80" height="14.80" fill="#450457"/><rect x="515.13" y="13.10" width="14.80" height="14.80" fill="#424086"/><rect x="530.47" y="13.10" width="14.80" height="14.80" fill="#46307e"/><rect x="561.14" y="13.10" width="14.80" height="14.80" fill="#46307e"/><rect x="591.81" y="13.10" width="14.80" height="14.80" fill="#443a83"/><rect x="622.48" y="13.10" width="14.80" height="14.80" fill="#443a83"/><rect x="637.81" y="13.10" width="14.80" height="14.80" fill="#463480"/><rect x="653.15" y="13.10" width="14.80" height="14.80" fill="#463480"/><rect x="392.45" y="28.44" width="14.80" height="14.80" fill="#414487"/><rect x="438.46" y="28.44" width="14.80" height="14.80" fill="#460b5e"/><rect x="530.47" y="28.44" width="14.80" height="14.80" fill="#355f8d"/><rect x="561.14" y="28.44" width="14.80" height="14.80" fill="#472e7c"/><rect x="622.48" y="28.44" width="14.80" height="14.80" fill="#472e7c"/><rect x="668.48" y="28.44" width="14.80" height="14.80" fill="#472e7c"/><rect x="469.13" y="43.77" width="14.80" height="14.80" fill="#481769"/><rect x="515.13" y="43.77" width="14.80" height="14.80" fill="#3a548c"/><rect x="561.14" y="43.77" width="14.80" height="14.80" fill="#375a8c"/><rect x="576.47" y="43.77" width="14.80" height="14.80" fill="#38588c"/><rect x="591.81" y="43.77" width="14.80" height="14.80" fill="#3b528b"/><rect x="622.48" y="43.77" width="14.80" height="14.80" fill="#3a548c"/><rect x="637.81" y="43.77" width="14.80" height="14.80" fill="#404688"/><rect x="653.15" y="43.77" width="14.80" height="14.80" fill="#404688"/><rect x="392.45" y="59.10" width="14.80" height="14.80" fill="#3c4f8a"/><rect x="530.47" y="59.10" width="14.80" height="14.80" fill="#414487"/><rect x="561.14" y="59.10" width="14.80" height="14.80" fill="#482475"/><rect x="484.46" y="74.44" width="14.80" height="14.80" fill="#443a83"/><rect x="499.80" y="74.44" width="14.80" height="14.80" fill="#471365"/><rect x="515.13" y="74.44" width="14.80" height="14.80" fill="#306a8e"/><rect x="561.14" y="74.44" width="14.80" height="14.80" fill="#31678e"/><rect x="591.81" y="74.44" width="14.80" height="14.80" fill="#297a8e"/><rect x="622.48" y="74.44" width="14.80" height="14.80" fill="#2b758e"/><rect x="637.81" y="74.44" width="14.80" height="14.80" fill="#3e4989"/><rect x="653.15" y="74.44" width="14.80" height="14.80" fill="#414487"/><rect x="668.48" y="74.44" width="14.80" height="14.80" fill="#365d8d"/><rect x="407.79" y="89.78" width="14.80" height="14.80" fill="#3a548c"/><rect x="438.29" y="89.61" width="15.14" height="15.14" fill="#472a7a" stroke="#e41a1c" stroke-width="0.6"/><rect x="453.62" y="89.61" width="15.14" height="15.14" fill="#450457" stroke="#e41a1c" stroke-width="0.6"/><rect x="484.46" y="89.78" width="14.80" height="14.80" fill="#2f6c8e"/><rect x="515.13" y="89.78" width="14.80" height="14.80" fill="#3b528b"/><rect x="560.97" y="89.61" width="15.14" height="15.14" fill="#375a8c" stroke="#f0a020" stroke-width="0.6"/><rect x="591.64" y="89.61" width="15.14" height="15.14" fill="#31678e" stroke="#f5d82a" stroke-width="0.6"/><rect x="622.31" y="89.61" width="15.14" height="15.14" fill="#33628d" stroke="#f0a020" stroke-width="0.6"/><rect x="637.64" y="89.61" width="15.14" height="15.14" fill="#3c4f8a" stroke="#f0a020" stroke-width="0.6"/><rect x="653.15" y="89.78" width="14.80" height="14.80" fill="#3c4f8a"/><rect x="668.48" y="89.78" width="14.80" height="14.80" fill="#2d718e"/><rect x="392.45" y="105.11" width="14.80" height="14.80" fill="#424086"/><rect x="438.29" y="104.94" width="15.14" height="15.14" fill="#482173" stroke="#e41a1c" stroke-width="0.6"/><rect x="453.62" y="104.94" width="15.14" height="15.14" fill="#450457" stroke="#e41a1c" stroke-width="0.6"/><rect x="545.80" y="105.11" width="14.80" height="14.80" fill="#463480"/><rect x="560.97" y="104.94" width="15.14" height="15.14" fill="#443a83" stroke="#f0a020" stroke-width="0.6"/><rect x="591.64" y="104.94" width="15.14" height="15.14" fill="#453781" stroke="#e41a1c" stroke-width="0.6"/><rect x="622.31" y="104.94" width="15.14" height="15.14" fill="#433e85" stroke="#f0a020" stroke-width="0.6"/><rect x="637.64" y="104.94" width="15.14" height="15.14" fill="#453781" stroke="#e41a1c" stroke-width="0.6"/><rect x="653.15" y="105.11" width="14.80" height="14.80" fill="#433e85"/><rect x="438.29" y="120.28" width="15.14" height="15.14" fill="#481a6c" stroke="#e41a1c" stroke-width="0.6"/><rect x="453.62" y="120.28" width="15.14" height="15.14" fill="#481d6f" stroke="#e41a1c" stroke-width="0.6"/><rect x="499.80" y="120.44" width="14.80" height="14.80" fill="#471063"/><rect x="515.13" y="120.44" width="14.80" height="14.80" fill="#355f8d"/><rect x="560.97" y="120.28" width="15.14" height="15.14" fill="#355f8d" stroke="#f0a020" stroke-width="0.6"/><rect x="576.47" y="120.44" width="14.80" height="14.80" fill="#424086"/><rect x="591.64" y="120.28" width="15.14" height="15.14" fill="#33628d" stroke="#f0a020" stroke-width="0.6"/><rect x="607.14" y="120.44" width="14.80" height="14.80" fill="#404688"/><rect x="622.31" y="120.28" width="15.14" height="15.14" fill="#365d8d" stroke="#f0a020" stroke-width="0.6"/><rect x="637.64" y="120.28" width="15.14" height="15.14" fill="#433e85" stroke="#f0a020" stroke-width="0.6"/><rect x="668.48" y="120.44" width="14.80" height="14.80" fill="#404688"/><rect x="438.29" y="135.61" width="15.14" height="15.14" fill="#440154" stroke="#e41a1c" stroke-width="0.6"/><rect x="453.62" y="135.61" width="15.14" height="15.14" fill="#463480" stroke="#e41a1c" stroke-width="0.6"/><rect x="499.80" y="135.78" width="14.80" height="14.80" fill="#453781"/><rect x="515.13" y="135.78" width="14.80" height="14.80" fill="#287d8e"/><rect x="545.80" y="135.78" width="14.80" height="14.80" fill="#414487"/><rect x="560.97" y="135.61" width="15.14" height="15.14" fill="#2c738e" stroke="#f5d82a" stroke-width="0.6"/><rect x="576.47" y="135.78" width="14.80" height="14.80" fill="#3b528b"/><rect x="591.64" y="135.61" width="15.14" height="15.14" fill="#24868e" stroke="#f5d82a" stroke-width="0.6"/><rect x="622.31" y="135.61" width="15.14" height="15.14" fill="#25848e" stroke="#f5d82a" stroke-width="0.6"/><rect x="637.64" y="135.61" width="15.14" height="15.14" fill="#38588c" stroke="#f0a020" stroke-width="0.6"/><rect x="653.15" y="135.78" width="14.80" height="14.80" fill="#3b528b"/><rect x="668.48" y="135.78" width="14.80" height="14.80" fill="#365d8d"/><rect x="407.79" y="151.12" width="14.80" height="14.80" fill="#404688"/><rect x="438.29" y="150.95" width="15.14" height="15.14" fill="#460b5e" stroke="#e41a1c" stroke-width="0.6"/><rect x="453.62" y="150.95" width="15.14" height="15.14" fill="#482475" stroke="#e41a1c" stroke-width="0.6"/><rect x="484.46" y="151.12" width="14.80" height="14.80" fill="#463480"/><rect x="515.13" y="151.12" width="14.80" height="14.80" fill="#287d8e"/><rect x="545.80" y="151.12" width="14.80" height="14.80" fill="#404688"/><rect x="560.97" y="150.95" width="15.14" height="15.14" fill="#2b758e" stroke="#f5d82a" stroke-width="0.6"/><rect x="576.47" y="151.12" width="14.80" height="14.80" fill="#3e4c8a"/><rect x="591.64" y="150.95" width="15.14" height="15.14" fill="#23898e" stroke="#f5d82a" stroke-width="0.6"/><rect x="607.14" y="151.12" width="14.80" height="14.80" fill="#414487"/><rect x="622.31" y="150.95" width="15.14" height="15.14" fill="#218e8d" stroke="#f5d82a" stroke-width="0.6"/><rect x="637.64" y="150.95" width="15.14" height="15.14" fill="#32648e" stroke="#f5d82a" stroke-width="0.6"/><rect x="653.15" y="151.12" width="14.80" height="14.80" fill="#355f8d"/><rect x="668.48" y="151.12" width="14.80" height="14.80" fill="#46307e"/><rect x="407.62" y="166.28" width="15.14" height="15.14" fill="#482475" stroke="#e41a1c" stroke-width="0.6"/><rect x="423.12" y="166.45" width="14.80" height="14.80" fill="#482878"/><rect x="438.29" y="166.28" width="15.14" height="15.14" fill="#471063" stroke="#e41a1c" stroke-width="0.6"/><rect x="453.62" y="166.28" width="15.14" height="15.14" fill="#482475" stroke="#e41a1c" stroke-width="0.6"/><rect x="545.80" y="166.45" width="14.80" height="14.80" fill="#433e85"/><rect x="591.81" y="166.45" width="14.80" height="14.80" fill="#38588c"/><rect x="499.80" y="181.78" width="14.80" height="14.80" fill="#3e4989"/><rect x="545.80" y="181.78" width="14.80" height="14.80" fill="#46307e"/><rect x="561.14" y="181.78" width="14.80" height="14.80" fill="#453781"/><rect x="591.81" y="181.78" width="14.80" height="14.80" fill="#3e4c8a"/><rect x="622.48" y="181.78" width="14.80" height="14.80" fill="#424086"/><rect x="637.81" y="181.78" width="14.80" height="14.80" fill="#472e7c"/><rect x="653.15" y="181.78" width="14.80" height="14.80" fill="#482878"/><rect x="438.29" y="196.95" width="15.14" height="15.14" fill="#440154" stroke="#e41a1c" stroke-width="0.6"/><rect x="453.62" y="196.95" width="15.14" height="15.14" fill="#472a7a" stroke="#f0a020" stroke-width="0.6"/><rect x="499.63" y="196.95" width="15.14" height="15.14" fill="#46307e" stroke="#e41a1c" stroke-width="0.6"/><rect x="515.13" y="197.12" width="14.80" height="14.80" fill="#46085c"/><rect x="530.30" y="196.95" width="15.14" height="15.14" fill="#481a6c" stroke="#f0a020" stroke-width="0.6"/><rect x="545.63" y="196.95" width="15.14" height="15.14" fill="#433e85" stroke="#e41a1c" stroke-width="0.6"/><rect x="422.95" y="212.29" width="15.14" height="15.14" fill="#471063" stroke="#e41a1c" stroke-width="0.6"/><rect x="438.29" y="212.29" width="15.14" height="15.14" fill="#481a6c" stroke="#e41a1c" stroke-width="0.6"/><rect x="453.62" y="212.29" width="15.14" height="15.14" fill="#481769" stroke="#e41a1c" stroke-width="0.6"/><rect x="392.45" y="227.79" width="14.80" height="14.80" fill="#463480"/><rect x="407.79" y="227.79" width="14.80" height="14.80" fill="#33628d"/><rect x="423.12" y="227.79" width="14.80" height="14.80" fill="#306a8e"/><rect x="438.29" y="227.62" width="15.14" height="15.14" fill="#471365" stroke="#e41a1c" stroke-width="0.6"/><rect x="453.62" y="227.62" width="15.14" height="15.14" fill="#460b5e" stroke="#e41a1c" stroke-width="0.6"/><rect x="468.96" y="227.62" width="15.14" height="15.14" fill="#450457" stroke="#e41a1c" stroke-width="0.6"/><rect x="484.46" y="227.79" width="14.80" height="14.80" fill="#404688"/><rect x="499.80" y="227.79" width="14.80" height="14.80" fill="#472a7a"/><rect x="561.14" y="227.79" width="14.80" height="14.80" fill="#482475"/><rect x="591.81" y="227.79" width="14.80" height="14.80" fill="#482475"/><rect x="637.81" y="227.79" width="14.80" height="14.80" fill="#453781"/><rect x="653.15" y="227.79" width="14.80" height="14.80" fill="#453781"/><rect x="392.45" y="243.12" width="14.80" height="14.80" fill="#424086"/><rect x="423.12" y="243.12" width="14.80" height="14.80" fill="#3b528b"/><rect x="438.29" y="242.96" width="15.14" height="15.14" fill="#450457" stroke="#e41a1c" stroke-width="0.6"/><rect x="453.62" y="242.96" width="15.14" height="15.14" fill="#482878" stroke="#e41a1c" stroke-width="0.6"/><rect x="499.63" y="242.96" width="15.14" height="15.14" fill="#46085c" stroke="#e41a1c" stroke-width="0.6"/><rect x="530.30" y="242.96" width="15.14" height="15.14" fill="#482475" stroke="#e41a1c" stroke-width="0.6"/><rect x="545.63" y="242.96" width="15.14" height="15.14" fill="#306a8e" stroke="#f5d82a" stroke-width="0.6"/><rect x="591.81" y="243.12" width="14.80" height="14.80" fill="#414487"/><rect x="668.48" y="243.12" width="14.80" height="14.80" fill="#424086"/><rect x="392.45" y="258.46" width="14.80" height="14.80" fill="#453781"/><rect x="423.12" y="258.46" width="14.80" height="14.80" fill="#3e4989"/><rect x="438.29" y="258.29" width="15.14" height="15.14" fill="#481769" stroke="#e41a1c" stroke-width="0.6"/><rect x="453.62" y="258.29" width="15.14" height="15.14" fill="#481d6f" stroke="#e41a1c" stroke-width="0.6"/><rect x="468.96" y="258.29" width="15.14" height="15.14" fill="#443a83" stroke="#e41a1c" stroke-width="0.6"/><rect x="545.80" y="258.46" width="14.80" height="14.80" fill="#355f8d"/><rect x="576.47" y="258.46" width="14.80" height="14.80" fill="#482475"/><rect x="591.81" y="258.46" width="14.80" height="14.80" fill="#3e4989"/><rect x="499.80" y="273.80" width="14.80" height="14.80" fill="#3e4c8a"/><rect x="622.48" y="273.80" width="14.80" height="14.80" fill="#443a83"/><rect x="653.15" y="273.80" width="14.80" height="14.80" fill="#482475"/><rect x="668.48" y="273.80" width="14.80" height="14.80" fill="#355f8d"/><rect x="392.45" y="289.13" width="14.80" height="14.80" fill="#3e4989"/><rect x="423.12" y="289.13" width="14.80" height="14.80" fill="#3e4c8a"/><rect x="438.29" y="288.96" width="15.14" height="15.14" fill="#460b5e" stroke="#e41a1c" stroke-width="0.6"/><rect x="453.62" y="288.96" width="15.14" height="15.14" fill="#481769" stroke="#e41a1c" stroke-width="0.6"/><rect x="484.29" y="288.96" width="15.14" height="15.14" fill="#472e7c" stroke="#e41a1c" stroke-width="0.6"/><rect x="499.80" y="289.13" width="14.80" height="14.80" fill="#414487"/><rect x="530.30" y="288.96" width="15.14" height="15.14" fill="#31678e" stroke="#f0a020" stroke-width="0.6"/><rect x="545.63" y="288.96" width="15.14" height="15.14" fill="#404688" stroke="#f0a020" stroke-width="0.6"/><rect x="668.48" y="289.13" width="14.80" height="14.80" fill="#2b758e"/><rect x="407.79" y="304.47" width="14.80" height="14.80" fill="#414487"/><rect x="438.29" y="304.30" width="15.14" height="15.14" fill="#460b5e" stroke="#e41a1c" stroke-width="0.6"/><rect x="453.62" y="304.30" width="15.14" height="15.14" fill="#46085c" stroke="#e41a1c" stroke-width="0.6"/><rect x="484.29" y="304.30" width="15.14" height="15.14" fill="#471063" stroke="#e41a1c" stroke-width="0.6"/><rect x="499.80" y="304.47" width="14.80" height="14.80" fill="#443a83"/><rect x="530.30" y="304.30" width="15.14" height="15.14" fill="#472e7c" stroke="#e41a1c" stroke-width="0.6"/><rect x="545.63" y="304.30" width="15.14" height="15.14" fill="#46085c" stroke="#e41a1c" stroke-width="0.6"/><rect x="561.14" y="304.47" width="14.80" height="14.80" fill="#433e85"/><rect x="622.48" y="304.47" width="14.80" height="14.80" fill="#414487"/><rect x="637.81" y="304.47" width="14.80" height="14.80" fill="#433e85"/><rect x="653.15" y="304.47" width="14.80" height="14.80" fill="#424086"/><rect x="438.29" y="319.63" width="15.14" height="15.14" fill="#433e85" stroke="#f0a020" stroke-width="0.6"/><rect x="453.62" y="319.63" width="15.14" height="15.14" fill="#481d6f" stroke="#e41a1c" stroke-width="0.6"/><rect x="468.96" y="319.63" width="15.14" height="15.14" fill="#3c4f8a" stroke="#f0a020" stroke-width="0.6"/><rect x="499.63" y="319.63" width="15.14" height="15.14" fill="#482475" stroke="#e41a1c" stroke-width="0.6"/><rect x="576.47" y="319.80" width="14.80" height="14.80" fill="#32648e"/><rect x="591.81" y="319.80" width="14.80" height="14.80" fill="#3a548c"/><rect x="622.48" y="319.80" width="14.80" height="14.80" fill="#3e4989"/><rect x="407.79" y="335.14" width="14.80" height="14.80" fill="#424086"/><rect x="438.29" y="334.97" width="15.14" height="15.14" fill="#450457" stroke="#e41a1c" stroke-width="0.6"/><rect x="453.62" y="334.97" width="15.14" height="15.14" fill="#471063" stroke="#e41a1c" stroke-width="0.6"/><rect x="484.29" y="334.97" width="15.14" height="15.14" fill="#450457" stroke="#e41a1c" stroke-width="0.6"/><rect x="499.80" y="335.14" width="14.80" height="14.80" fill="#3c4f8a"/><rect x="530.30" y="334.97" width="15.14" height="15.14" fill="#424086" stroke="#e41a1c" stroke-width="0.6"/><rect x="545.63" y="334.97" width="15.14" height="15.14" fill="#460b5e" stroke="#e41a1c" stroke-width="0.6"/><rect x="622.48" y="335.14" width="14.80" height="14.80" fill="#424086"/><rect x="637.81" y="335.14" width="14.80" height="14.80" fill="#463480"/><rect x="653.15" y="335.14" width="14.80" height="14.80" fill="#453781"/><rect x="392.45" y="350.47" width="14.80" height="14.80" fill="#2c738e"/><rect x="407.79" y="350.47" width="14.80" height="14.80" fill="#306a8e"/><rect x="423.12" y="350.47" width="14.80" height="14.80" fill="#26828e"/><rect x="484.46" y="350.47" width="14.80" height="14.80" fill="#33628d"/><rect x="499.80" y="350.47" width="14.80" height="14.80" fill="#433e85"/><rect x="545.80" y="350.47" width="14.80" height="14.80" fill="#3e4989"/><rect x="561.14" y="350.47" width="14.80" height="14.80" fill="#3e4c8a"/><rect x="637.81" y="350.47" width="14.80" height="14.80" fill="#3c4f8a"/><rect x="653.15" y="350.47" width="14.80" height="14.80" fill="#375a8c"/><rect x="438.29" y="365.64" width="15.14" height="15.14" fill="#482475" stroke="#e41a1c" stroke-width="0.6"/><rect x="453.62" y="365.64" width="15.14" height="15.14" fill="#481d6f" stroke="#e41a1c" stroke-width="0.6"/><rect x="484.29" y="365.64" width="15.14" height="15.14" fill="#440154" stroke="#e41a1c" stroke-width="0.6"/><rect x="499.63" y="365.64" width="15.14" height="15.14" fill="#375a8c" stroke="#e41a1c" stroke-width="0.6"/><rect x="560.97" y="365.64" width="15.14" height="15.14" fill="#482475" stroke="#e41a1c" stroke-width="0.6"/><rect x="607.14" y="365.81" width="14.80" height="14.80" fill="#443a83"/><rect x="622.48" y="365.81" width="14.80" height="14.80" fill="#453781"/><rect x="637.81" y="365.81" width="14.80" height="14.80" fill="#443a83"/><rect x="653.15" y="365.81" width="14.80" height="14.80" fill="#433e85"/><rect x="392.45" y="381.14" width="14.80" height="14.80" fill="#3e4c8a"/><rect x="407.79" y="381.14" width="14.80" height="14.80" fill="#424086"/><rect x="514.96" y="380.97" width="15.14" height="15.14" fill="#433e85" stroke="#e41a1c" stroke-width="0.6"/><rect x="561.14" y="381.14" width="14.80" height="14.80" fill="#424086"/><rect x="576.30" y="380.97" width="15.14" height="15.14" fill="#472e7c" stroke="#f0a020" stroke-width="0.6"/><rect x="591.81" y="381.14" width="14.80" height="14.80" fill="#453781"/><rect x="606.97" y="380.97" width="15.14" height="15.14" fill="#424086" stroke="#f0a020" stroke-width="0.6"/><rect x="622.48" y="381.14" width="14.80" height="14.80" fill="#3e4989"/><rect x="637.81" y="381.14" width="14.80" height="14.80" fill="#38588c"/><rect x="653.15" y="381.14" width="14.80" height="14.80" fill="#375a8c"/><rect x="392.45" y="396.48" width="14.80" height="14.80" fill="#414487"/><rect x="407.79" y="396.48" width="14.80" height="14.80" fill="#424086"/><rect x="423.12" y="396.48" width="14.80" height="14.80" fill="#404688"/><rect x="469.13" y="396.48" width="14.80" height="14.80" fill="#482475"/><rect x="484.46" y="396.48" width="14.80" height="14.80" fill="#3e4989"/><rect x="514.96" y="396.31" width="15.14" height="15.14" fill="#481d6f" stroke="#e41a1c" stroke-width="0.6"/><rect x="530.47" y="396.48" width="14.80" height="14.80" fill="#38588c"/><rect x="422.95" y="411.64" width="15.14" height="15.14" fill="#460b5e" stroke="#e41a1c" stroke-width="0.6"/><rect x="453.79" y="411.81" width="14.80" height="14.80" fill="#3a548c"/><rect x="576.47" y="411.81" width="14.80" height="14.80" fill="#306a8e"/><rect x="606.97" y="411.64" width="15.14" height="15.14" fill="#306a8e" stroke="#f5d82a" stroke-width="0.6"/><rect x="637.81" y="411.81" width="14.80" height="14.80" fill="#433e85"/><rect x="653.15" y="411.81" width="14.80" height="14.80" fill="#433e85"/><rect x="668.48" y="411.81" width="14.80" height="14.80" fill="#3e4989"/><rect x="392.45" y="427.15" width="14.80" height="14.80" fill="#404688"/><rect x="407.79" y="427.15" width="14.80" height="14.80" fill="#424086"/><rect x="422.95" y="426.98" width="15.14" height="15.14" fill="#2f6c8e" stroke="#f5d82a" stroke-width="0.6"/><rect x="484.46" y="427.15" width="14.80" height="14.80" fill="#3c4f8a"/><rect x="545.80" y="427.15" width="14.80" height="14.80" fill="#375a8c"/><rect x="561.14" y="427.15" width="14.80" height="14.80" fill="#404688"/><rect x="606.97" y="426.98" width="15.14" height="15.14" fill="#46307e" stroke="#e41a1c" stroke-width="0.6"/><rect x="668.48" y="427.15" width="14.80" height="14.80" fill="#443a83"/>
<g font-size="3.55" text-anchor="middle" font-weight="bold" text-rendering="geometricPrecision">
<g fill="#ffffff"><text x="399.85" y="19.40">ρ= -0.15</text><text x="399.85" y="24.75">p=0.003</text></g><g fill="#ffffff"><text x="445.86" y="19.40">ρ= -0.01</text><text x="445.86" y="24.75">p=0.041</text></g><g fill="#ffffff"><text x="522.53" y="19.40">ρ= -0.19</text><text x="522.53" y="24.75">p=0.028</text></g><g fill="#ffffff"><text x="537.87" y="19.40">ρ= -0.14</text><text x="537.87" y="24.75">p=0.01</text></g><g fill="#ffffff"><text x="568.54" y="19.40">ρ= -0.14</text><text x="568.54" y="24.75">p&lt;0.001</text></g><g fill="#ffffff"><text x="599.21" y="19.40">ρ= -0.17</text><text x="599.21" y="24.75">p=0.011</text></g><g fill="#ffffff"><text x="629.88" y="19.40">ρ= -0.17</text><text x="629.88" y="24.75">p=0.004</text></g><g fill="#ffffff"><text x="645.21" y="19.40">ρ= -0.15</text><text x="645.21" y="24.75">p=0.023</text></g><g fill="#ffffff"><text x="660.55" y="19.40">ρ= -0.15</text><text x="660.55" y="24.75">p=0.028</text></g><g fill="#ffffff"><text x="399.85" y="34.73">ρ= -0.2</text><text x="399.85" y="40.09">p&lt;0.001</text></g><g fill="#ffffff"><text x="445.86" y="34.73">ρ= 0.03</text><text x="445.86" y="40.09">p=0.038</text></g><g fill="#ffffff"><text x="537.87" y="34.73">ρ= -0.3</text><text x="537.87" y="40.09">p=0.003</text></g><g fill="#ffffff"><text x="568.54" y="34.73">ρ= -0.13</text><text x="568.54" y="40.09">p=0.003</text></g><g fill="#ffffff"><text x="629.88" y="34.73">ρ= -0.13</text><text x="629.88" y="40.09">p=0.023</text></g><g fill="#ffffff"><text x="675.88" y="34.73">ρ= 0.13</text><text x="675.88" y="40.09">p=0.034</text></g><g fill="#ffffff"><text x="476.53" y="50.07">ρ= 0.06</text><text x="476.53" y="55.42">p=0.045</text></g><g fill="#ffffff"><text x="522.53" y="50.07">ρ= -0.26</text><text x="522.53" y="55.42">p=0.014</text></g><g fill="#ffffff"><text x="568.54" y="50.07">ρ= -0.28</text><text x="568.54" y="55.42">p&lt;0.001</text></g><g fill="#ffffff"><text x="583.87" y="50.07">ρ= -0.27</text><text x="583.87" y="55.42">p=0.034</text></g><g fill="#ffffff"><text x="599.21" y="50.07">ρ= -0.25</text><text x="599.21" y="55.42">p=0.004</text></g><g fill="#ffffff"><text x="629.88" y="50.07">ρ= -0.26</text><text x="629.88" y="55.42">p&lt;0.001</text></g><g fill="#ffffff"><text x="645.21" y="50.07">ρ= -0.21</text><text x="645.21" y="55.42">p=0.025</text></g><g fill="#ffffff"><text x="660.55" y="50.07">ρ= -0.21</text><text x="660.55" y="55.42">p=0.021</text></g><g fill="#ffffff"><text x="399.85" y="65.41">ρ= -0.24</text><text x="399.85" y="70.75">p&lt;0.001</text></g><g fill="#ffffff"><text x="537.87" y="65.41">ρ= -0.2</text><text x="537.87" y="70.75">p=0.029</text></g><g fill="#ffffff"><text x="568.54" y="65.41">ρ= -0.1</text><text x="568.54" y="70.75">p=0.034</text></g><g fill="#ffffff"><text x="491.86" y="80.74">ρ= 0.17</text><text x="491.86" y="86.09">p=0.027</text></g><g fill="#ffffff"><text x="507.20" y="80.74">ρ= 0.05</text><text x="507.20" y="86.09">p=0.004</text></g><g fill="#ffffff"><text x="522.53" y="80.74">ρ= 0.34</text><text x="522.53" y="86.09">p=0.002</text></g><g fill="#ffffff"><text x="568.54" y="80.74">ρ= 0.33</text><text x="568.54" y="86.09">p&lt;0.001</text></g><g fill="#ffffff"><text x="599.21" y="80.74">ρ= 0.41</text><text x="599.21" y="86.09">p&lt;0.001</text></g><g fill="#ffffff"><text x="629.88" y="80.74">ρ= 0.39</text><text x="629.88" y="86.09">p&lt;0.001</text></g><g fill="#ffffff"><text x="645.21" y="80.74">ρ= 0.22</text><text x="645.21" y="86.09">p&lt;0.001</text></g><g fill="#ffffff"><text x="660.55" y="80.74">ρ= 0.2</text><text x="660.55" y="86.09">p=0.003</text></g><g fill="#ffffff"><text x="675.88" y="80.74">ρ= -0.29</text><text x="675.88" y="86.09">p&lt;0.001</text></g><g fill="#ffffff"><text x="415.19" y="96.08">ρ= 0.26</text><text x="415.19" y="101.43">p=0.003</text></g><g fill="#e41a1c"><text x="445.86" y="96.08">ρ= -0.12</text><text x="445.86" y="101.43">p=0.6</text></g><g fill="#e41a1c"><text x="461.19" y="96.08">ρ= -0.01</text><text x="461.19" y="101.43">p=0.9</text></g><g fill="#ffffff"><text x="491.86" y="96.08">ρ= -0.35</text><text x="491.86" y="101.43">p&lt;0.001</text></g><g fill="#ffffff"><text x="522.53" y="96.08">ρ= -0.25</text><text x="522.53" y="101.43">p=0.045</text></g><g fill="#f0a020"><text x="568.54" y="96.08">ρ= -0.28</text><text x="568.54" y="101.43">p&lt;0.001</text></g><g fill="#f5d82a"><text x="599.21" y="96.08">ρ= -0.33</text><text x="599.21" y="101.43">p&lt;0.001</text></g><g fill="#f0a020"><text x="629.88" y="96.08">ρ= -0.31</text><text x="629.88" y="101.43">p&lt;0.001</text></g><g fill="#f0a020"><text x="645.21" y="96.08">ρ= -0.24</text><text x="645.21" y="101.43">p=0.003</text></g><g fill="#ffffff"><text x="660.55" y="96.08">ρ= -0.24</text><text x="660.55" y="101.43">p=0.003</text></g><g fill="#ffffff"><text x="675.88" y="96.08">ρ= 0.37</text><text x="675.88" y="101.43">p&lt;0.001</text></g><g fill="#ffffff"><text x="399.85" y="111.41">ρ= -0.19</text><text x="399.85" y="116.76">p=0.007</text></g><g fill="#e41a1c"><text x="445.86" y="111.41">ρ= 0.09</text><text x="445.86" y="116.76">p=0.9</text></g><g fill="#e41a1c"><text x="461.19" y="111.41">ρ= -0.01</text><text x="461.19" y="116.76">p=0.7</text></g><g fill="#ffffff"><text x="553.20" y="111.41">ρ= -0.15</text><text x="553.20" y="116.76">p=0.045</text></g><g fill="#f0a020"><text x="568.54" y="111.41">ρ= -0.17</text><text x="568.54" y="116.76">p=0.028</text></g><g fill="#e41a1c"><text x="599.21" y="111.41">ρ= -0.16</text><text x="599.21" y="116.76">p=0.077</text></g><g fill="#f0a020"><text x="629.88" y="111.41">ρ= -0.18</text><text x="629.88" y="116.76">p=0.023</text></g><g fill="#e41a1c"><text x="645.21" y="111.41">ρ= -0.16</text><text x="645.21" y="116.76">p=0.053</text></g><g fill="#ffffff"><text x="660.55" y="111.41">ρ= -0.18</text><text x="660.55" y="116.76">p=0.029</text></g><g fill="#e41a1c"><text x="445.86" y="126.75">ρ= 0.07</text><text x="445.86" y="132.09">p=0.8</text></g><g fill="#e41a1c"><text x="461.19" y="126.75">ρ= 0.08</text><text x="461.19" y="132.09">p=0.8</text></g><g fill="#ffffff"><text x="507.20" y="126.75">ρ= 0.04</text><text x="507.20" y="132.09">p=0.027</text></g><g fill="#ffffff"><text x="522.53" y="126.75">ρ= 0.3</text><text x="522.53" y="132.09">p=0.02</text></g><g fill="#f0a020"><text x="568.54" y="126.75">ρ= 0.3</text><text x="568.54" y="132.09">p=0.003</text></g><g fill="#ffffff"><text x="583.87" y="126.75">ρ= 0.19</text><text x="583.87" y="132.09">p=0.013</text></g><g fill="#f0a020"><text x="599.21" y="126.75">ρ= 0.31</text><text x="599.21" y="132.09">p=0.002</text></g><g fill="#ffffff"><text x="614.54" y="126.75">ρ= -0.21</text><text x="614.54" y="132.09">p=0.034</text></g><g fill="#f0a020"><text x="629.88" y="126.75">ρ= 0.29</text><text x="629.88" y="132.09">p=0.002</text></g><g fill="#f0a020"><text x="645.21" y="126.75">ρ= 0.18</text><text x="645.21" y="132.09">p=0.046</text></g><g fill="#ffffff"><text x="675.88" y="126.75">ρ= -0.21</text><text x="675.88" y="132.09">p=0.002</text></g><g fill="#e41a1c"><text x="445.86" y="142.08">ρ= 0</text><text x="445.86" y="147.43">p=0.9</text></g><g fill="#e41a1c"><text x="461.19" y="142.08">ρ= -0.15</text><text x="461.19" y="147.43">p=0.1</text></g><g fill="#ffffff"><text x="507.20" y="142.08">ρ= 0.16</text><text x="507.20" y="147.43">p=0.004</text></g><g fill="#ffffff"><text x="522.53" y="142.08">ρ= 0.42</text><text x="522.53" y="147.43">p&lt;0.001</text></g><g fill="#ffffff"><text x="553.20" y="142.08">ρ= 0.2</text><text x="553.20" y="147.43">p=0.029</text></g><g fill="#f5d82a"><text x="568.54" y="142.08">ρ= 0.38</text><text x="568.54" y="147.43">p&lt;0.001</text></g><g fill="#ffffff"><text x="583.87" y="142.08">ρ= 0.25</text><text x="583.87" y="147.43">p=0.008</text></g><g fill="#f5d82a"><text x="599.21" y="142.08">ρ= 0.46</text><text x="599.21" y="147.43">p&lt;0.001</text></g><g fill="#f5d82a"><text x="629.88" y="142.08">ρ= 0.45</text><text x="629.88" y="147.43">p&lt;0.001</text></g><g fill="#f0a020"><text x="645.21" y="142.08">ρ= 0.27</text><text x="645.21" y="147.43">p=0.001</text></g><g fill="#ffffff"><text x="660.55" y="142.08">ρ= 0.25</text><text x="660.55" y="147.43">p&lt;0.001</text></g><g fill="#ffffff"><text x="675.88" y="142.08">ρ= -0.29</text><text x="675.88" y="147.43">p&lt;0.001</text></g><g fill="#ffffff"><text x="415.19" y="157.42">ρ= -0.21</text><text x="415.19" y="162.77">p=0.023</text></g><g fill="#e41a1c"><text x="445.86" y="157.42">ρ= -0.03</text><text x="445.86" y="162.77">p=0.7</text></g><g fill="#e41a1c"><text x="461.19" y="157.42">ρ= -0.1</text><text x="461.19" y="162.77">p=0.1</text></g><g fill="#ffffff"><text x="491.86" y="157.42">ρ= 0.15</text><text x="491.86" y="162.77">p=0.031</text></g><g fill="#ffffff"><text x="522.53" y="157.42">ρ= 0.42</text><text x="522.53" y="162.77">p&lt;0.001</text></g><g fill="#ffffff"><text x="553.20" y="157.42">ρ= 0.21</text><text x="553.20" y="162.77">p=0.003</text></g><g fill="#f5d82a"><text x="568.54" y="157.42">ρ= 0.39</text><text x="568.54" y="162.77">p&lt;0.001</text></g><g fill="#ffffff"><text x="583.87" y="157.42">ρ= 0.23</text><text x="583.87" y="162.77">p=0.01</text></g><g fill="#f5d82a"><text x="599.21" y="157.42">ρ= 0.47</text><text x="599.21" y="162.77">p&lt;0.001</text></g><g fill="#ffffff"><text x="614.54" y="157.42">ρ= 0.2</text><text x="614.54" y="162.77">p=0.046</text></g><g fill="#f5d82a"><text x="629.88" y="157.42">ρ= 0.49</text><text x="629.88" y="162.77">p&lt;0.001</text></g><g fill="#f5d82a"><text x="645.21" y="157.42">ρ= 0.32</text><text x="645.21" y="162.77">p&lt;0.001</text></g><g fill="#ffffff"><text x="660.55" y="157.42">ρ= 0.3</text><text x="660.55" y="162.77">p&lt;0.001</text></g><g fill="#ffffff"><text x="675.88" y="157.42">ρ= -0.14</text><text x="675.88" y="162.77">p=0.028</text></g><g fill="#e41a1c"><text x="415.19" y="172.75">ρ= -0.1</text><text x="415.19" y="178.10">p=0.063</text></g><g fill="#ffffff"><text x="430.52" y="172.75">ρ= -0.11</text><text x="430.52" y="178.10">p=0.039</text></g><g fill="#e41a1c"><text x="445.86" y="172.75">ρ= -0.04</text><text x="445.86" y="178.10">p=0.6</text></g><g fill="#e41a1c"><text x="461.19" y="172.75">ρ= 0.1</text><text x="461.19" y="178.10">p=0.2</text></g><g fill="#ffffff"><text x="553.20" y="172.75">ρ= 0.18</text><text x="553.20" y="178.10">p=0.048</text></g><g fill="#ffffff"><text x="599.21" y="172.75">ρ= 0.27</text><text x="599.21" y="178.10">p=0.048</text></g><g fill="#ffffff"><text x="507.20" y="188.09">ρ= 0.22</text><text x="507.20" y="193.44">p=0.004</text></g><g fill="#ffffff"><text x="553.20" y="188.09">ρ= 0.14</text><text x="553.20" y="193.44">p=0.007</text></g><g fill="#ffffff"><text x="568.54" y="188.09">ρ= -0.16</text><text x="568.54" y="193.44">p=0.013</text></g><g fill="#ffffff"><text x="599.21" y="188.09">ρ= -0.23</text><text x="599.21" y="193.44">p&lt;0.001</text></g><g fill="#ffffff"><text x="629.88" y="188.09">ρ= -0.19</text><text x="629.88" y="193.44">p=0.017</text></g><g fill="#ffffff"><text x="645.21" y="188.09">ρ= -0.13</text><text x="645.21" y="193.44">p=0.04</text></g><g fill="#ffffff"><text x="660.55" y="188.09">ρ= -0.11</text><text x="660.55" y="193.44">p=0.039</text></g><g fill="#e41a1c"><text x="445.86" y="203.42">ρ= 0</text><text x="445.86" y="208.77">p=0.7</text></g><g fill="#f0a020"><text x="461.19" y="203.42">ρ= 0.12</text><text x="461.19" y="208.77">p=0.039</text></g><g fill="#e41a1c"><text x="507.20" y="203.42">ρ= 0.14</text><text x="507.20" y="208.77">p=0.3</text></g><g fill="#ffffff"><text x="522.53" y="203.42">ρ= -0.02</text><text x="522.53" y="208.77">p=0.049</text></g><g fill="#f0a020"><text x="537.87" y="203.42">ρ= 0.07</text><text x="537.87" y="208.77">p=0.027</text></g><g fill="#e41a1c"><text x="553.20" y="203.42">ρ= -0.18</text><text x="553.20" y="208.77">p=0.6</text></g><g fill="#e41a1c"><text x="430.52" y="218.76">ρ= -0.04</text><text x="430.52" y="224.11">p=0.4</text></g><g fill="#e41a1c"><text x="445.86" y="218.76">ρ= 0.07</text><text x="445.86" y="224.11">p=0.8</text></g><g fill="#e41a1c"><text x="461.19" y="218.76">ρ= 0.06</text><text x="461.19" y="224.11">p=0.2</text></g><g fill="#ffffff"><text x="399.85" y="234.09">ρ= -0.15</text><text x="399.85" y="239.44">p&lt;0.001</text></g><g fill="#ffffff"><text x="415.19" y="234.09">ρ= 0.31</text><text x="415.19" y="239.44">p&lt;0.001</text></g><g fill="#ffffff"><text x="430.52" y="234.09">ρ= 0.34</text><text x="430.52" y="239.44">p&lt;0.001</text></g><g fill="#e41a1c"><text x="445.86" y="234.09">ρ= -0.05</text><text x="445.86" y="239.44">p=0.6</text></g><g fill="#e41a1c"><text x="461.19" y="234.09">ρ= 0.03</text><text x="461.19" y="239.44">p=0.6</text></g><g fill="#e41a1c"><text x="476.53" y="234.09">ρ= -0.01</text><text x="476.53" y="239.44">p=0.2</text></g><g fill="#ffffff"><text x="491.86" y="234.09">ρ= -0.21</text><text x="491.86" y="239.44">p&lt;0.001</text></g><g fill="#ffffff"><text x="507.20" y="234.09">ρ= 0.12</text><text x="507.20" y="239.44">p=0.01</text></g><g fill="#ffffff"><text x="568.54" y="234.09">ρ= -0.1</text><text x="568.54" y="239.44">p=0.011</text></g><g fill="#ffffff"><text x="599.21" y="234.09">ρ= -0.1</text><text x="599.21" y="239.44">p=0.018</text></g><g fill="#ffffff"><text x="645.21" y="234.09">ρ= -0.16</text><text x="645.21" y="239.44">p=0.025</text></g><g fill="#ffffff"><text x="660.55" y="234.09">ρ= -0.16</text><text x="660.55" y="239.44">p=0.03</text></g><g fill="#ffffff"><text x="399.85" y="249.43">ρ= 0.19</text><text x="399.85" y="254.78">p&lt;0.001</text></g><g fill="#ffffff"><text x="430.52" y="249.43">ρ= -0.25</text><text x="430.52" y="254.78">p=0.008</text></g><g fill="#e41a1c"><text x="445.86" y="249.43">ρ= 0.01</text><text x="445.86" y="254.78">p=0.3</text></g><g fill="#e41a1c"><text x="461.19" y="249.43">ρ= -0.11</text><text x="461.19" y="254.78">p=0.6</text></g><g fill="#e41a1c"><text x="507.20" y="249.43">ρ= 0.02</text><text x="507.20" y="254.78">p=0.9</text></g><g fill="#e41a1c"><text x="537.87" y="249.43">ρ= 0.1</text><text x="537.87" y="254.78">p=0.3</text></g><g fill="#f5d82a"><text x="553.20" y="249.43">ρ= 0.34</text><text x="553.20" y="254.78">p&lt;0.001</text></g><g fill="#ffffff"><text x="599.21" y="249.43">ρ= -0.2</text><text x="599.21" y="254.78">p=0.003</text></g><g fill="#ffffff"><text x="675.88" y="249.43">ρ= -0.19</text><text x="675.88" y="254.78">p=0.018</text></g><g fill="#ffffff"><text x="399.85" y="264.76">ρ= 0.16</text><text x="399.85" y="270.11">p&lt;0.001</text></g><g fill="#ffffff"><text x="430.52" y="264.76">ρ= -0.22</text><text x="430.52" y="270.11">p=0.018</text></g><g fill="#e41a1c"><text x="445.86" y="264.76">ρ= 0.06</text><text x="445.86" y="270.11">p=0.3</text></g><g fill="#e41a1c"><text x="461.19" y="264.76">ρ= -0.08</text><text x="461.19" y="270.11">p=0.4</text></g><g fill="#e41a1c"><text x="476.53" y="264.76">ρ= 0.17</text><text x="476.53" y="270.11">p=0.8</text></g><g fill="#ffffff"><text x="553.20" y="264.76">ρ= 0.3</text><text x="553.20" y="270.11">p&lt;0.001</text></g><g fill="#ffffff"><text x="583.87" y="264.76">ρ= -0.1</text><text x="583.87" y="270.11">p=0.031</text></g><g fill="#ffffff"><text x="599.21" y="264.76">ρ= -0.22</text><text x="599.21" y="270.11">p=0.003</text></g><g fill="#ffffff"><text x="507.20" y="280.09">ρ= -0.23</text><text x="507.20" y="285.44">p=0.003</text></g><g fill="#ffffff"><text x="629.88" y="280.09">ρ= 0.17</text><text x="629.88" y="285.44">p=0.033</text></g><g fill="#ffffff"><text x="660.55" y="280.09">ρ= 0.1</text><text x="660.55" y="285.44">p=0.046</text></g><g fill="#ffffff"><text x="675.88" y="280.09">ρ= 0.3</text><text x="675.88" y="285.44">p&lt;0.001</text></g><g fill="#ffffff"><text x="399.85" y="295.43">ρ= -0.22</text><text x="399.85" y="300.78">p&lt;0.001</text></g><g fill="#ffffff"><text x="430.52" y="295.43">ρ= 0.23</text><text x="430.52" y="300.78">p=0.01</text></g><g fill="#e41a1c"><text x="445.86" y="295.43">ρ= -0.03</text><text x="445.86" y="300.78">p=0.9</text></g><g fill="#e41a1c"><text x="461.19" y="295.43">ρ= -0.06</text><text x="461.19" y="300.78">p=0.3</text></g><g fill="#e41a1c"><text x="491.86" y="295.43">ρ= -0.13</text><text x="491.86" y="300.78">p=0.2</text></g><g fill="#ffffff"><text x="507.20" y="295.43">ρ= -0.2</text><text x="507.20" y="300.78">p=0.003</text></g><g fill="#f0a020"><text x="537.87" y="295.43">ρ= -0.33</text><text x="537.87" y="300.78">p=0.008</text></g><g fill="#f0a020"><text x="553.20" y="295.43">ρ= -0.21</text><text x="553.20" y="300.78">p=0.003</text></g><g fill="#ffffff"><text x="675.88" y="295.43">ρ= 0.39</text><text x="675.88" y="300.78">p&lt;0.001</text></g><g fill="#ffffff"><text x="415.19" y="310.76">ρ= -0.2</text><text x="415.19" y="316.12">p=0.041</text></g><g fill="#e41a1c"><text x="445.86" y="310.76">ρ= 0.03</text><text x="445.86" y="316.12">p=0.8</text></g><g fill="#e41a1c"><text x="461.19" y="310.76">ρ= 0.02</text><text x="461.19" y="316.12">p=0.7</text></g><g fill="#e41a1c"><text x="491.86" y="310.76">ρ= 0.04</text><text x="491.86" y="316.12">p=0.087</text></g><g fill="#ffffff"><text x="507.20" y="310.76">ρ= -0.17</text><text x="507.20" y="316.12">p=0.005</text></g><g fill="#e41a1c"><text x="537.87" y="310.76">ρ= -0.13</text><text x="537.87" y="316.12">p=0.6</text></g><g fill="#e41a1c"><text x="553.20" y="310.76">ρ= 0.02</text><text x="553.20" y="316.12">p=0.4</text></g><g fill="#ffffff"><text x="568.54" y="310.76">ρ= 0.18</text><text x="568.54" y="316.12">p=0.044</text></g><g fill="#ffffff"><text x="629.88" y="310.76">ρ= 0.2</text><text x="629.88" y="316.12">p=0.008</text></g><g fill="#ffffff"><text x="645.21" y="310.76">ρ= 0.18</text><text x="645.21" y="316.12">p=0.011</text></g><g fill="#ffffff"><text x="660.55" y="310.76">ρ= 0.19</text><text x="660.55" y="316.12">p=0.006</text></g><g fill="#f0a020"><text x="445.86" y="326.10">ρ= -0.18</text><text x="445.86" y="331.45">p=0.016</text></g><g fill="#e41a1c"><text x="461.19" y="326.10">ρ= -0.08</text><text x="461.19" y="331.45">p=0.3</text></g><g fill="#f0a020"><text x="476.53" y="326.10">ρ= -0.24</text><text x="476.53" y="331.45">p=0.009</text></g><g fill="#e41a1c"><text x="507.20" y="326.10">ρ= -0.1</text><text x="507.20" y="331.45">p=0.6</text></g><g fill="#ffffff"><text x="583.87" y="326.10">ρ= 0.32</text><text x="583.87" y="331.45">p=0.01</text></g><g fill="#ffffff"><text x="599.21" y="326.10">ρ= 0.26</text><text x="599.21" y="331.45">p=0.008</text></g><g fill="#ffffff"><text x="629.88" y="326.10">ρ= 0.22</text><text x="629.88" y="331.45">p=0.016</text></g><g fill="#ffffff"><text x="415.19" y="341.44">ρ= -0.19</text><text x="415.19" y="346.79">p=0.008</text></g><g fill="#e41a1c"><text x="445.86" y="341.44">ρ= 0.01</text><text x="445.86" y="346.79">p=0.6</text></g><g fill="#e41a1c"><text x="461.19" y="341.44">ρ= 0.04</text><text x="461.19" y="346.79">p=0.8</text></g><g fill="#e41a1c"><text x="491.86" y="341.44">ρ= 0.01</text><text x="491.86" y="346.79">p=0.1</text></g><g fill="#ffffff"><text x="507.20" y="341.44">ρ= -0.24</text><text x="507.20" y="346.79">p=0.003</text></g><g fill="#e41a1c"><text x="537.87" y="341.44">ρ= -0.19</text><text x="537.87" y="346.79">p=0.2</text></g><g fill="#e41a1c"><text x="553.20" y="341.44">ρ= 0.03</text><text x="553.20" y="346.79">p=0.3</text></g><g fill="#ffffff"><text x="629.88" y="341.44">ρ= 0.19</text><text x="629.88" y="346.79">p=0.028</text></g><g fill="#ffffff"><text x="645.21" y="341.44">ρ= 0.15</text><text x="645.21" y="346.79">p=0.022</text></g><g fill="#ffffff"><text x="660.55" y="341.44">ρ= 0.16</text><text x="660.55" y="346.79">p=0.014</text></g><g fill="#ffffff"><text x="399.85" y="356.77">ρ= 0.38</text><text x="399.85" y="362.12">p&lt;0.001</text></g><g fill="#ffffff"><text x="415.19" y="356.77">ρ= -0.34</text><text x="415.19" y="362.12">p&lt;0.001</text></g><g fill="#ffffff"><text x="430.52" y="356.77">ρ= -0.44</text><text x="430.52" y="362.12">p&lt;0.001</text></g><g fill="#ffffff"><text x="491.86" y="356.77">ρ= 0.31</text><text x="491.86" y="362.12">p&lt;0.001</text></g><g fill="#ffffff"><text x="507.20" y="356.77">ρ= -0.18</text><text x="507.20" y="362.12">p=0.003</text></g><g fill="#ffffff"><text x="553.20" y="356.77">ρ= 0.22</text><text x="553.20" y="362.12">p=0.004</text></g><g fill="#ffffff"><text x="568.54" y="356.77">ρ= 0.23</text><text x="568.54" y="362.12">p=0.003</text></g><g fill="#ffffff"><text x="645.21" y="356.77">ρ= 0.24</text><text x="645.21" y="362.12">p&lt;0.001</text></g><g fill="#ffffff"><text x="660.55" y="356.77">ρ= 0.28</text><text x="660.55" y="362.12">p&lt;0.001</text></g><g fill="#e41a1c"><text x="445.86" y="372.11">ρ= 0.1</text><text x="445.86" y="377.46">p=0.4</text></g><g fill="#e41a1c"><text x="461.19" y="372.11">ρ= -0.08</text><text x="461.19" y="377.46">p=0.6</text></g><g fill="#e41a1c"><text x="491.86" y="372.11">ρ= 0</text><text x="491.86" y="377.46">p=0.4</text></g><g fill="#e41a1c"><text x="507.20" y="372.11">ρ= -0.28</text><text x="507.20" y="377.46">p=0.051</text></g><g fill="#e41a1c"><text x="568.54" y="372.11">ρ= 0.1</text><text x="568.54" y="377.46">p=0.2</text></g><g fill="#ffffff"><text x="614.54" y="372.11">ρ= 0.17</text><text x="614.54" y="377.46">p=0.021</text></g><g fill="#ffffff"><text x="629.88" y="372.11">ρ= 0.16</text><text x="629.88" y="377.46">p=0.017</text></g><g fill="#ffffff"><text x="645.21" y="372.11">ρ= 0.17</text><text x="645.21" y="377.46">p&lt;0.001</text></g><g fill="#ffffff"><text x="660.55" y="372.11">ρ= 0.18</text><text x="660.55" y="377.46">p&lt;0.001</text></g><g fill="#ffffff"><text x="399.85" y="387.44">ρ= 0.23</text><text x="399.85" y="392.79">p=0.034</text></g><g fill="#ffffff"><text x="415.19" y="387.44">ρ= -0.19</text><text x="415.19" y="392.79">p&lt;0.001</text></g><g fill="#e41a1c"><text x="522.53" y="387.44">ρ= 0.18</text><text x="522.53" y="392.79">p=0.058</text></g><g fill="#ffffff"><text x="568.54" y="387.44">ρ= 0.19</text><text x="568.54" y="392.79">p=0.029</text></g><g fill="#f0a020"><text x="583.87" y="387.44">ρ= 0.13</text><text x="583.87" y="392.79">p=0.033</text></g><g fill="#ffffff"><text x="599.21" y="387.44">ρ= 0.16</text><text x="599.21" y="392.79">p=0.014</text></g><g fill="#f0a020"><text x="614.54" y="387.44">ρ= 0.19</text><text x="614.54" y="392.79">p&lt;0.001</text></g><g fill="#ffffff"><text x="629.88" y="387.44">ρ= 0.22</text><text x="629.88" y="392.79">p=0.012</text></g><g fill="#ffffff"><text x="645.21" y="387.44">ρ= 0.27</text><text x="645.21" y="392.79">p&lt;0.001</text></g><g fill="#ffffff"><text x="660.55" y="387.44">ρ= 0.28</text><text x="660.55" y="392.79">p&lt;0.001</text></g><g fill="#ffffff"><text x="399.85" y="402.77">ρ= 0.2</text><text x="399.85" y="408.12">p=0.003</text></g><g fill="#ffffff"><text x="415.19" y="402.77">ρ= -0.19</text><text x="415.19" y="408.12">p=0.008</text></g><g fill="#ffffff"><text x="430.52" y="402.77">ρ= -0.21</text><text x="430.52" y="408.12">p=0.026</text></g><g fill="#ffffff"><text x="476.53" y="402.77">ρ= 0.1</text><text x="476.53" y="408.12">p=0.02</text></g><g fill="#ffffff"><text x="491.86" y="402.77">ρ= 0.22</text><text x="491.86" y="408.12">p=0.004</text></g><g fill="#e41a1c"><text x="522.53" y="402.77">ρ= -0.08</text><text x="522.53" y="408.12">p=0.2</text></g><g fill="#ffffff"><text x="537.87" y="402.77">ρ= 0.27</text><text x="537.87" y="408.12">p=0.003</text></g><g fill="#e41a1c"><text x="430.52" y="418.11">ρ= -0.03</text><text x="430.52" y="423.46">p=0.6</text></g><g fill="#ffffff"><text x="461.19" y="418.11">ρ= 0.26</text><text x="461.19" y="423.46">p&lt;0.001</text></g><g fill="#ffffff"><text x="583.87" y="418.11">ρ= -0.34</text><text x="583.87" y="423.46">p&lt;0.001</text></g><g fill="#f5d82a"><text x="614.54" y="418.11">ρ= -0.34</text><text x="614.54" y="423.46">p&lt;0.001</text></g><g fill="#ffffff"><text x="645.21" y="418.11">ρ= -0.18</text><text x="645.21" y="423.46">p=0.007</text></g><g fill="#ffffff"><text x="660.55" y="418.11">ρ= -0.18</text><text x="660.55" y="423.46">p=0.032</text></g><g fill="#ffffff"><text x="675.88" y="418.11">ρ= 0.22</text><text x="675.88" y="423.46">p=0.026</text></g><g fill="#ffffff"><text x="399.85" y="433.44">ρ= 0.21</text><text x="399.85" y="438.80">p&lt;0.001</text></g><g fill="#ffffff"><text x="415.19" y="433.44">ρ= -0.19</text><text x="415.19" y="438.80">p=0.003</text></g><g fill="#f5d82a"><text x="430.52" y="433.44">ρ= -0.35</text><text x="430.52" y="438.80">p&lt;0.001</text></g><g fill="#ffffff"><text x="491.86" y="433.44">ρ= 0.24</text><text x="491.86" y="438.80">p=0.003</text></g><g fill="#ffffff"><text x="553.20" y="433.44">ρ= 0.28</text><text x="553.20" y="438.80">p&lt;0.001</text></g><g fill="#ffffff"><text x="568.54" y="433.44">ρ= -0.21</text><text x="568.54" y="438.80">p=0.003</text></g><g fill="#e41a1c"><text x="614.54" y="433.44">ρ= -0.14</text><text x="614.54" y="438.80">p=0.6</text></g><g fill="#ffffff"><text x="675.88" y="433.44">ρ= -0.17</text><text x="675.88" y="438.80">p=0.008</text></g>
</g>
</g>
<defs><linearGradient id="vg" x1="0" x2="1" y1="0" y2="0">
<stop offset="0.00" stop-color="#440154"/>
<stop offset="0.05" stop-color="#471365"/>
<stop offset="0.10" stop-color="#482475"/>
<stop offset="0.15" stop-color="#463480"/>
<stop offset="0.20" stop-color="#414487"/>
<stop offset="0.25" stop-color="#3b528b"/>
<stop offset="0.30" stop-color="#355f8d"/>
<stop offset="0.35" stop-color="#2f6c8e"/>
<stop offset="0.40" stop-color="#2a788e"/>
<stop offset="0.45" stop-color="#25848e"/>
<stop offset="0.50" stop-color="#21918c"/>
<stop offset="0.55" stop-color="#1e9c89"/>
<stop offset="0.60" stop-color="#22a884"/>
<stop offset="0.65" stop-color="#2fb47c"/>
<stop offset="0.70" stop-color="#44bf70"/>
<stop offset="0.75" stop-color="#5ec962"/>
<stop offset="0.80" stop-color="#7ad151"/>
<stop offset="0.85" stop-color="#9bd93c"/>
<stop offset="0.90" stop-color="#bddf26"/>
<stop offset="0.95" stop-color="#dfe318"/>
<stop offset="1.00" stop-color="#fde725"/>
</linearGradient></defs>
<text x="95.1" y="510.1" font-size="7.6" fill="#000">(abs) Correlation</text>
<rect x="155.8" y="497.2" width="60.9" height="12.5" fill="url(#vg)"/>
<path d="M171.03 497.2v2.4M171.03 509.7v-2.4M186.25 497.2v2.4M186.25 509.7v-2.4M201.48 497.2v2.4M201.48 509.7v-2.4" stroke="#fff" stroke-width="0.4" fill="none"/>
<g font-size="5.9" fill="#000" text-anchor="middle">
<text x="155.80" y="517.8">0.00</text>
<text x="171.03" y="517.8">0.25</text>
<text x="186.25" y="517.8">0.50</text>
<text x="201.48" y="517.8">0.75</text>
<text x="216.70" y="517.8">1.00</text>
</g>
<text x="231.9" y="505.7" font-size="7.6" fill="#000">Relevance</text>
<rect x="271.60" y="497.3" width="11.4" height="11.4" fill="#333" stroke="#f5d82a" stroke-width="0.8"/>
<text x="277.30" y="504.1" font-size="3.2" font-weight="bold" text-anchor="middle" fill="#f5d82a">a</text>
<text x="287.40" y="505.75" font-size="6.3" fill="#000">Hypothesised and significant</text>
<rect x="371.40" y="497.3" width="11.4" height="11.4" fill="#333" stroke="#f0a020" stroke-width="0.8"/>
<text x="377.10" y="504.1" font-size="3.2" font-weight="bold" text-anchor="middle" fill="#f0a020">a</text>
<text x="386.90" y="505.75" font-size="6.3" fill="#000">Hypothesised and (unadjusted) significant</text>
<rect x="508.05" y="497.55" width="10.9" height="10.9" fill="#333"/>
<text x="513.50" y="504.1" font-size="3.2" font-weight="bold" text-anchor="middle" fill="#ffffff">a</text>
<text x="523.20" y="505.75" font-size="6.3" fill="#000">(unadjusted) Significant</text>
<rect x="592.90" y="497.3" width="11.4" height="11.4" fill="#333" stroke="#e41a1c" stroke-width="0.8"/>
<text x="598.60" y="504.1" font-size="3.2" font-weight="bold" text-anchor="middle" fill="#e41a1c">a</text>
<text x="608.80" y="505.75" font-size="6.3" fill="#000">Hypothesised</text>
<rect x="650.30" y="496.9" width="12.2" height="12.2" fill="#ebebeb"/>
<text x="656.40" y="504.1" font-size="3.2" font-weight="bold" text-anchor="middle" fill="#cfcfcf">a</text>
<text x="666.30" y="505.75" font-size="6.3" fill="#000">None</text>
</svg>
</body></html>
